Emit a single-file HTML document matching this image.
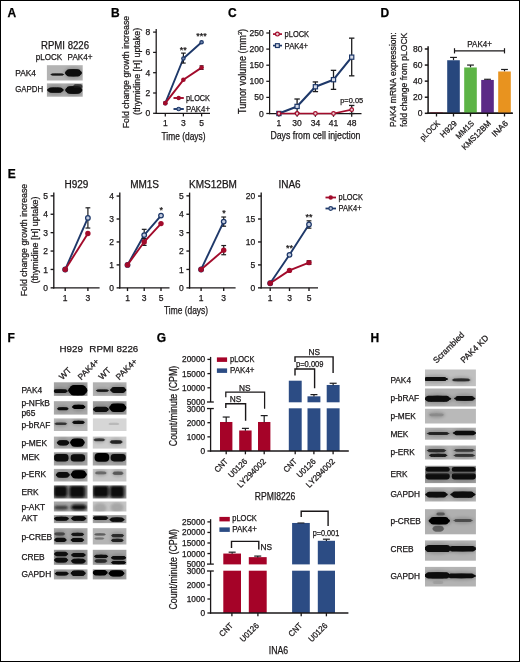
<!DOCTYPE html>
<html lang="en"><head><meta charset="utf-8"><title>Figure</title>
<style>
html,body{margin:0;padding:0;background:#fff;}
body{width:520px;height:662px;overflow:hidden;}
svg{display:block;font-family:'Liberation Sans', Arial, Helvetica, sans-serif;}
</style></head>
<body>
<svg width="520" height="662" viewBox="0 0 520 662">
<defs>
<filter id="b10" x="-20%" y="-50%" width="140%" height="200%"><feGaussianBlur stdDeviation="1.0"/></filter>
<filter id="b9" x="-20%" y="-50%" width="140%" height="200%"><feGaussianBlur stdDeviation="0.9"/></filter>
<filter id="b7" x="-20%" y="-50%" width="140%" height="200%"><feGaussianBlur stdDeviation="0.7"/></filter>
<filter id="b15" x="-20%" y="-50%" width="140%" height="200%"><feGaussianBlur stdDeviation="1.5"/></filter>
</defs>
<rect x="0" y="0" width="520" height="662" fill="#ffffff"/>
<text transform="translate(7.50,16.70)" font-size="12" text-anchor="start" font-weight="bold" fill="#000" stroke="#000" stroke-width="0.25">A</text>
<text transform="translate(111.00,16.70)" font-size="12" text-anchor="start" font-weight="bold" fill="#000" stroke="#000" stroke-width="0.25">B</text>
<text transform="translate(228.00,16.70)" font-size="12" text-anchor="start" font-weight="bold" fill="#000" stroke="#000" stroke-width="0.25">C</text>
<text transform="translate(380.50,16.70)" font-size="12" text-anchor="start" font-weight="bold" fill="#000" stroke="#000" stroke-width="0.25">D</text>
<text transform="translate(7.80,178.10)" font-size="12" text-anchor="start" font-weight="bold" fill="#000" stroke="#000" stroke-width="0.25">E</text>
<text transform="translate(7.50,342.30)" font-size="12" text-anchor="start" font-weight="bold" fill="#000" stroke="#000" stroke-width="0.25">F</text>
<text transform="translate(156.70,342.30)" font-size="12" text-anchor="start" font-weight="bold" fill="#000" stroke="#000" stroke-width="0.25">G</text>
<text transform="translate(370.60,342.30)" font-size="12" text-anchor="start" font-weight="bold" fill="#000" stroke="#000" stroke-width="0.25">H</text>
<text transform="translate(41.00,48.80)" font-size="10" text-anchor="start" font-weight="normal" fill="#1a1718" stroke="#1a1718" stroke-width="0.25" textLength="48" lengthAdjust="spacingAndGlyphs">RPMI 8226</text>
<text transform="translate(35.80,60.10)" font-size="9" text-anchor="start" font-weight="normal" fill="#1a1718" stroke="#1a1718" stroke-width="0.25" textLength="26.4" lengthAdjust="spacingAndGlyphs">pLOCK</text>
<text transform="translate(67.60,60.10)" font-size="9" text-anchor="start" font-weight="normal" fill="#1a1718" stroke="#1a1718" stroke-width="0.25" textLength="25" lengthAdjust="spacingAndGlyphs">PAK4+</text>
<text transform="translate(15.20,75.80)" font-size="8.6" text-anchor="start" font-weight="normal" fill="#1a1718" stroke="#1a1718" stroke-width="0.25" textLength="20.8" lengthAdjust="spacingAndGlyphs">PAK4</text>
<text transform="translate(15.20,92.00)" font-size="8.6" text-anchor="start" font-weight="normal" fill="#1a1718" stroke="#1a1718" stroke-width="0.25" textLength="28" lengthAdjust="spacingAndGlyphs">GAPDH</text>
<clipPath id="c1"><rect x="46.90" y="65.20" width="35.80" height="15.30"/></clipPath>
<rect x="46.90" y="65.20" width="35.80" height="15.30" fill="#b3b3b3"/>
<g clip-path="url(#c1)"><g filter="url(#b15)">
<ellipse cx="73.40" cy="72.90" rx="9.75" ry="6.00" fill="#000" opacity="0.16"/>
</g><g filter="url(#b7)">
<ellipse cx="57.30" cy="74.50" rx="6.93" ry="1.03" fill="#1a1a1a" opacity="0.9"/>
<rect x="51.44" y="73.41" width="11.72" height="2.18" rx="0.88" fill="#1a1a1a" opacity="0.9"/>
<ellipse cx="73.40" cy="72.90" rx="8.58" ry="3.42" fill="#080808" opacity="1"/>
<rect x="66.15" y="69.29" width="14.51" height="7.22" rx="2.91" fill="#080808" opacity="1"/>
</g></g>
<clipPath id="c2"><rect x="46.90" y="83.40" width="35.80" height="13.30"/></clipPath>
<rect x="46.90" y="83.40" width="35.80" height="13.30" fill="#adadad"/>
<g clip-path="url(#c2)"><g filter="url(#b15)">
<ellipse cx="55.40" cy="90.10" rx="9.50" ry="5.00" fill="#000" opacity="0.16"/>
<ellipse cx="73.80" cy="90.00" rx="9.88" ry="6.20" fill="#000" opacity="0.16"/>
</g><g filter="url(#b7)">
<ellipse cx="55.40" cy="90.10" rx="8.36" ry="2.52" fill="#0a0a0a" opacity="1"/>
<rect x="48.33" y="87.44" width="14.14" height="5.32" rx="2.14" fill="#0a0a0a" opacity="1"/>
<ellipse cx="73.80" cy="90.00" rx="8.69" ry="3.60" fill="#080808" opacity="1"/>
<rect x="66.45" y="86.20" width="14.69" height="7.60" rx="3.06" fill="#080808" opacity="1"/>
<ellipse cx="77.90" cy="86.40" rx="4.95" ry="2.25" fill="#1a1a1a" opacity="0.5"/>
<rect x="73.72" y="84.03" width="8.37" height="4.75" rx="1.91" fill="#1a1a1a" opacity="0.5"/>
</g></g>
<line x1="156.20" y1="29.00" x2="156.20" y2="113.92" stroke="#1a1718" stroke-width="1.25" stroke-linecap="butt"/>
<line x1="155.57" y1="113.30" x2="210.00" y2="113.30" stroke="#1a1718" stroke-width="1.25" stroke-linecap="butt"/>
<line x1="153.10" y1="113.30" x2="156.20" y2="113.30" stroke="#1a1718" stroke-width="1.25" stroke-linecap="butt"/>
<text transform="translate(150.30,116.36)" font-size="8.5" text-anchor="end" font-weight="normal" fill="#1a1718" stroke="#1a1718" stroke-width="0.25">0</text>
<line x1="153.10" y1="93.00" x2="156.20" y2="93.00" stroke="#1a1718" stroke-width="1.25" stroke-linecap="butt"/>
<text transform="translate(150.30,96.06)" font-size="8.5" text-anchor="end" font-weight="normal" fill="#1a1718" stroke="#1a1718" stroke-width="0.25">2</text>
<line x1="153.10" y1="72.70" x2="156.20" y2="72.70" stroke="#1a1718" stroke-width="1.25" stroke-linecap="butt"/>
<text transform="translate(150.30,75.76)" font-size="8.5" text-anchor="end" font-weight="normal" fill="#1a1718" stroke="#1a1718" stroke-width="0.25">4</text>
<line x1="153.10" y1="52.40" x2="156.20" y2="52.40" stroke="#1a1718" stroke-width="1.25" stroke-linecap="butt"/>
<text transform="translate(150.30,55.46)" font-size="8.5" text-anchor="end" font-weight="normal" fill="#1a1718" stroke="#1a1718" stroke-width="0.25">6</text>
<line x1="153.10" y1="32.10" x2="156.20" y2="32.10" stroke="#1a1718" stroke-width="1.25" stroke-linecap="butt"/>
<text transform="translate(150.30,35.16)" font-size="8.5" text-anchor="end" font-weight="normal" fill="#1a1718" stroke="#1a1718" stroke-width="0.25">8</text>
<line x1="165.30" y1="113.30" x2="165.30" y2="116.40" stroke="#1a1718" stroke-width="1.25" stroke-linecap="butt"/>
<text transform="translate(165.30,126.10)" font-size="8.5" text-anchor="middle" font-weight="normal" fill="#1a1718" stroke="#1a1718" stroke-width="0.25">1</text>
<line x1="183.40" y1="113.30" x2="183.40" y2="116.40" stroke="#1a1718" stroke-width="1.25" stroke-linecap="butt"/>
<text transform="translate(183.40,126.10)" font-size="8.5" text-anchor="middle" font-weight="normal" fill="#1a1718" stroke="#1a1718" stroke-width="0.25">3</text>
<line x1="201.60" y1="113.30" x2="201.60" y2="116.40" stroke="#1a1718" stroke-width="1.25" stroke-linecap="butt"/>
<text transform="translate(201.60,126.10)" font-size="8.5" text-anchor="middle" font-weight="normal" fill="#1a1718" stroke="#1a1718" stroke-width="0.25">5</text>
<text transform="translate(183.50,139.50)" font-size="10" text-anchor="middle" font-weight="normal" fill="#1a1718" stroke="#1a1718" stroke-width="0.25" textLength="44" lengthAdjust="spacingAndGlyphs">Time (days)</text>
<text transform="translate(128.50,72.00) rotate(-90)" font-size="9.2" text-anchor="middle" font-weight="normal" fill="#1a1718" stroke="#1a1718" stroke-width="0.25" textLength="112.5" lengthAdjust="spacingAndGlyphs">Fold change growth increase</text>
<text transform="translate(139.90,71.40) rotate(-90)" font-size="9.2" text-anchor="middle" font-weight="normal" fill="#1a1718" stroke="#1a1718" stroke-width="0.25" textLength="87" lengthAdjust="spacingAndGlyphs">(thymidine [H] uptake)</text>
<polyline points="165.30,103.15 183.40,58.49 201.60,42.25" fill="none" stroke="#1e3869" stroke-width="1.9" stroke-linejoin="round"/>
<line x1="183.40" y1="53.11" x2="183.40" y2="63.06" stroke="#1d1d1f" stroke-width="1.2" stroke-linecap="butt"/>
<line x1="181.10" y1="53.11" x2="185.70" y2="53.11" stroke="#1d1d1f" stroke-width="1.2" stroke-linecap="butt"/>
<line x1="181.10" y1="63.06" x2="185.70" y2="63.06" stroke="#1d1d1f" stroke-width="1.2" stroke-linecap="butt"/>
<circle cx="165.30" cy="103.15" r="1.7" fill="#7288b0" stroke="#1e3869" stroke-width="1.2"/>
<circle cx="183.40" cy="58.49" r="1.7" fill="#7288b0" stroke="#1e3869" stroke-width="1.2"/>
<circle cx="201.60" cy="42.25" r="1.7" fill="#7288b0" stroke="#1e3869" stroke-width="1.2"/>
<polyline points="165.30,103.15 183.40,79.81 201.60,67.62" fill="none" stroke="#a20b2b" stroke-width="1.9" stroke-linejoin="round"/>
<line x1="201.60" y1="65.80" x2="201.60" y2="69.45" stroke="#1d1d1f" stroke-width="1.1" stroke-linecap="butt"/>
<line x1="199.60" y1="65.80" x2="203.60" y2="65.80" stroke="#1d1d1f" stroke-width="1.1" stroke-linecap="butt"/>
<line x1="199.60" y1="69.45" x2="203.60" y2="69.45" stroke="#1d1d1f" stroke-width="1.1" stroke-linecap="butt"/>
<circle cx="165.30" cy="103.15" r="2.3" fill="#a20b2b" stroke="none" stroke-width="1.0"/>
<circle cx="183.40" cy="79.81" r="2.3" fill="#a20b2b" stroke="none" stroke-width="1.0"/>
<circle cx="201.60" cy="67.62" r="2.3" fill="#a20b2b" stroke="none" stroke-width="1.0"/>
<text transform="translate(183.20,52.50)" font-size="9" text-anchor="middle" font-weight="normal" fill="#1a1718" stroke="#1a1718" stroke-width="0.25">**</text>
<text transform="translate(201.50,38.50)" font-size="9" text-anchor="middle" font-weight="normal" fill="#1a1718" stroke="#1a1718" stroke-width="0.25">***</text>
<line x1="173.50" y1="98.00" x2="183.80" y2="98.00" stroke="#a20b2b" stroke-width="1.9" stroke-linecap="butt"/>
<circle cx="178.70" cy="98.00" r="2.2" fill="#a20b2b" stroke="none" stroke-width="1.0"/>
<text transform="translate(186.00,101.00)" font-size="8.5" text-anchor="start" font-weight="normal" fill="#1a1718" stroke="#1a1718" stroke-width="0.25" textLength="24" lengthAdjust="spacingAndGlyphs">pLOCK</text>
<line x1="173.50" y1="109.00" x2="183.80" y2="109.00" stroke="#1e3869" stroke-width="1.9" stroke-linecap="butt"/>
<circle cx="178.70" cy="109.00" r="1.8" fill="#7f95bb" stroke="#1e3869" stroke-width="1.1"/>
<text transform="translate(186.00,112.00)" font-size="8.5" text-anchor="start" font-weight="normal" fill="#1a1718" stroke="#1a1718" stroke-width="0.25" textLength="24" lengthAdjust="spacingAndGlyphs">PAK4+</text>
<line x1="269.60" y1="30.00" x2="269.60" y2="114.12" stroke="#1a1718" stroke-width="1.25" stroke-linecap="butt"/>
<line x1="268.98" y1="113.50" x2="361.50" y2="113.50" stroke="#1a1718" stroke-width="1.25" stroke-linecap="butt"/>
<line x1="266.30" y1="113.50" x2="269.60" y2="113.50" stroke="#1a1718" stroke-width="1.25" stroke-linecap="butt"/>
<text transform="translate(263.70,116.56)" font-size="8.5" text-anchor="end" font-weight="normal" fill="#1a1718" stroke="#1a1718" stroke-width="0.25">0</text>
<line x1="266.30" y1="97.40" x2="269.60" y2="97.40" stroke="#1a1718" stroke-width="1.25" stroke-linecap="butt"/>
<text transform="translate(263.70,100.46)" font-size="8.5" text-anchor="end" font-weight="normal" fill="#1a1718" stroke="#1a1718" stroke-width="0.25">50</text>
<line x1="266.30" y1="81.30" x2="269.60" y2="81.30" stroke="#1a1718" stroke-width="1.25" stroke-linecap="butt"/>
<text transform="translate(263.70,84.36)" font-size="8.5" text-anchor="end" font-weight="normal" fill="#1a1718" stroke="#1a1718" stroke-width="0.25">100</text>
<line x1="266.30" y1="65.20" x2="269.60" y2="65.20" stroke="#1a1718" stroke-width="1.25" stroke-linecap="butt"/>
<text transform="translate(263.70,68.26)" font-size="8.5" text-anchor="end" font-weight="normal" fill="#1a1718" stroke="#1a1718" stroke-width="0.25">150</text>
<line x1="266.30" y1="49.10" x2="269.60" y2="49.10" stroke="#1a1718" stroke-width="1.25" stroke-linecap="butt"/>
<text transform="translate(263.70,52.16)" font-size="8.5" text-anchor="end" font-weight="normal" fill="#1a1718" stroke="#1a1718" stroke-width="0.25">200</text>
<line x1="266.30" y1="33.00" x2="269.60" y2="33.00" stroke="#1a1718" stroke-width="1.25" stroke-linecap="butt"/>
<text transform="translate(263.70,36.06)" font-size="8.5" text-anchor="end" font-weight="normal" fill="#1a1718" stroke="#1a1718" stroke-width="0.25">250</text>
<line x1="278.90" y1="113.50" x2="278.90" y2="116.80" stroke="#1a1718" stroke-width="1.25" stroke-linecap="butt"/>
<text transform="translate(278.90,126.20)" font-size="8.5" text-anchor="middle" font-weight="normal" fill="#1a1718" stroke="#1a1718" stroke-width="0.25">1</text>
<line x1="297.10" y1="113.50" x2="297.10" y2="116.80" stroke="#1a1718" stroke-width="1.25" stroke-linecap="butt"/>
<text transform="translate(297.10,126.20)" font-size="8.5" text-anchor="middle" font-weight="normal" fill="#1a1718" stroke="#1a1718" stroke-width="0.25">30</text>
<line x1="315.40" y1="113.50" x2="315.40" y2="116.80" stroke="#1a1718" stroke-width="1.25" stroke-linecap="butt"/>
<text transform="translate(315.40,126.20)" font-size="8.5" text-anchor="middle" font-weight="normal" fill="#1a1718" stroke="#1a1718" stroke-width="0.25">34</text>
<line x1="333.50" y1="113.50" x2="333.50" y2="116.80" stroke="#1a1718" stroke-width="1.25" stroke-linecap="butt"/>
<text transform="translate(333.50,126.20)" font-size="8.5" text-anchor="middle" font-weight="normal" fill="#1a1718" stroke="#1a1718" stroke-width="0.25">41</text>
<line x1="351.70" y1="113.50" x2="351.70" y2="116.80" stroke="#1a1718" stroke-width="1.25" stroke-linecap="butt"/>
<text transform="translate(351.70,126.20)" font-size="8.5" text-anchor="middle" font-weight="normal" fill="#1a1718" stroke="#1a1718" stroke-width="0.25">48</text>
<text transform="translate(315.40,138.80)" font-size="10" text-anchor="middle" font-weight="normal" fill="#1a1718" stroke="#1a1718" stroke-width="0.25" textLength="90" lengthAdjust="spacingAndGlyphs">Days from cell injection</text>
<text transform="translate(245.80,71.50) rotate(-90)" font-size="10" text-anchor="middle" font-weight="normal" fill="#1a1718" stroke="#1a1718" stroke-width="0.25" textLength="85" lengthAdjust="spacingAndGlyphs">Tumor volume (mm<tspan font-size="6" dy="-3.5">3</tspan><tspan dy="3.5">)</tspan></text>
<line x1="297.10" y1="113.18" x2="297.10" y2="99.01" stroke="#1d1d1f" stroke-width="1.3" stroke-linecap="butt"/>
<line x1="294.40" y1="113.18" x2="299.80" y2="113.18" stroke="#1d1d1f" stroke-width="1.3" stroke-linecap="butt"/>
<line x1="294.40" y1="99.01" x2="299.80" y2="99.01" stroke="#1d1d1f" stroke-width="1.3" stroke-linecap="butt"/>
<line x1="315.40" y1="91.60" x2="315.40" y2="81.94" stroke="#1d1d1f" stroke-width="1.3" stroke-linecap="butt"/>
<line x1="312.70" y1="91.60" x2="318.10" y2="91.60" stroke="#1d1d1f" stroke-width="1.3" stroke-linecap="butt"/>
<line x1="312.70" y1="81.94" x2="318.10" y2="81.94" stroke="#1d1d1f" stroke-width="1.3" stroke-linecap="butt"/>
<line x1="333.50" y1="89.35" x2="333.50" y2="70.35" stroke="#1d1d1f" stroke-width="1.3" stroke-linecap="butt"/>
<line x1="330.80" y1="89.35" x2="336.20" y2="89.35" stroke="#1d1d1f" stroke-width="1.3" stroke-linecap="butt"/>
<line x1="330.80" y1="70.35" x2="336.20" y2="70.35" stroke="#1d1d1f" stroke-width="1.3" stroke-linecap="butt"/>
<line x1="351.70" y1="75.83" x2="351.70" y2="38.15" stroke="#1d1d1f" stroke-width="1.3" stroke-linecap="butt"/>
<line x1="349.00" y1="75.83" x2="354.40" y2="75.83" stroke="#1d1d1f" stroke-width="1.3" stroke-linecap="butt"/>
<line x1="349.00" y1="38.15" x2="354.40" y2="38.15" stroke="#1d1d1f" stroke-width="1.3" stroke-linecap="butt"/>
<polyline points="278.90,113.50 297.10,106.42 315.40,86.77 333.50,79.69 351.70,57.15" fill="none" stroke="#1e3869" stroke-width="2.1" stroke-linejoin="round"/>
<rect x="276.80" y="111.40" width="4.20" height="4.20" fill="#d5dbe8" stroke="#1e3869" stroke-width="1.2"/>
<rect x="295.00" y="104.32" width="4.20" height="4.20" fill="#d5dbe8" stroke="#1e3869" stroke-width="1.2"/>
<rect x="313.30" y="84.67" width="4.20" height="4.20" fill="#d5dbe8" stroke="#1e3869" stroke-width="1.2"/>
<rect x="331.40" y="77.59" width="4.20" height="4.20" fill="#d5dbe8" stroke="#1e3869" stroke-width="1.2"/>
<rect x="349.60" y="55.05" width="4.20" height="4.20" fill="#d5dbe8" stroke="#1e3869" stroke-width="1.2"/>
<line x1="351.70" y1="105.45" x2="351.70" y2="113.50" stroke="#1d1d1f" stroke-width="1.3" stroke-linecap="butt"/>
<line x1="349.00" y1="105.45" x2="354.40" y2="105.45" stroke="#1d1d1f" stroke-width="1.3" stroke-linecap="butt"/>
<line x1="349.00" y1="113.50" x2="354.40" y2="113.50" stroke="#1d1d1f" stroke-width="1.3" stroke-linecap="butt"/>
<polyline points="278.90,113.50 297.10,113.50 315.40,113.50 333.50,113.50 351.70,109.64" fill="none" stroke="#a20b2b" stroke-width="1.7" stroke-linejoin="round"/>
<circle cx="278.90" cy="113.50" r="1.8" fill="#ecd0d6" stroke="#a20b2b" stroke-width="1.2"/>
<circle cx="297.10" cy="113.50" r="1.8" fill="#ecd0d6" stroke="#a20b2b" stroke-width="1.2"/>
<circle cx="315.40" cy="113.50" r="1.8" fill="#ecd0d6" stroke="#a20b2b" stroke-width="1.2"/>
<circle cx="333.50" cy="113.50" r="1.8" fill="#ecd0d6" stroke="#a20b2b" stroke-width="1.2"/>
<circle cx="351.70" cy="109.64" r="1.8" fill="#ecd0d6" stroke="#a20b2b" stroke-width="1.2"/>
<text transform="translate(351.70,103.00)" font-size="8" text-anchor="middle" font-weight="normal" fill="#1a1718" stroke="#1a1718" stroke-width="0.25" textLength="23" lengthAdjust="spacingAndGlyphs">p=0.05</text>
<line x1="273.00" y1="34.10" x2="282.00" y2="34.10" stroke="#a20b2b" stroke-width="1.7" stroke-linecap="butt"/>
<circle cx="277.40" cy="34.10" r="1.9" fill="#ecd0d6" stroke="#a20b2b" stroke-width="1.2"/>
<text transform="translate(284.60,37.10)" font-size="8.5" text-anchor="start" font-weight="normal" fill="#1a1718" stroke="#1a1718" stroke-width="0.25" textLength="24.5" lengthAdjust="spacingAndGlyphs">pLOCK</text>
<line x1="273.00" y1="45.60" x2="282.00" y2="45.60" stroke="#1e3869" stroke-width="1.7" stroke-linecap="butt"/>
<rect x="275.50" y="43.70" width="3.80" height="3.80" fill="#d5dbe8" stroke="#1e3869" stroke-width="1.2"/>
<text transform="translate(284.60,48.60)" font-size="8.5" text-anchor="start" font-weight="normal" fill="#1a1718" stroke="#1a1718" stroke-width="0.25" textLength="23.5" lengthAdjust="spacingAndGlyphs">PAK4+</text>
<line x1="428.10" y1="46.20" x2="428.10" y2="114.05" stroke="#1a1718" stroke-width="1.5" stroke-linecap="butt"/>
<line x1="427.35" y1="113.30" x2="512.70" y2="113.30" stroke="#1a1718" stroke-width="1.5" stroke-linecap="butt"/>
<line x1="424.80" y1="113.30" x2="428.10" y2="113.30" stroke="#1a1718" stroke-width="1.5" stroke-linecap="butt"/>
<text transform="translate(422.40,116.36)" font-size="8.5" text-anchor="end" font-weight="normal" fill="#1a1718" stroke="#1a1718" stroke-width="0.25">0</text>
<line x1="424.80" y1="97.22" x2="428.10" y2="97.22" stroke="#1a1718" stroke-width="1.5" stroke-linecap="butt"/>
<text transform="translate(422.40,100.28)" font-size="8.5" text-anchor="end" font-weight="normal" fill="#1a1718" stroke="#1a1718" stroke-width="0.25">20</text>
<line x1="424.80" y1="81.14" x2="428.10" y2="81.14" stroke="#1a1718" stroke-width="1.5" stroke-linecap="butt"/>
<text transform="translate(422.40,84.20)" font-size="8.5" text-anchor="end" font-weight="normal" fill="#1a1718" stroke="#1a1718" stroke-width="0.25">40</text>
<line x1="424.80" y1="65.06" x2="428.10" y2="65.06" stroke="#1a1718" stroke-width="1.5" stroke-linecap="butt"/>
<text transform="translate(422.40,68.12)" font-size="8.5" text-anchor="end" font-weight="normal" fill="#1a1718" stroke="#1a1718" stroke-width="0.25">60</text>
<line x1="424.80" y1="48.98" x2="428.10" y2="48.98" stroke="#1a1718" stroke-width="1.5" stroke-linecap="butt"/>
<text transform="translate(422.40,52.04)" font-size="8.5" text-anchor="end" font-weight="normal" fill="#1a1718" stroke="#1a1718" stroke-width="0.25">80</text>
<rect x="430.20" y="112.50" width="12.60" height="0.80" fill="#a20b2b"/>
<line x1="436.50" y1="113.30" x2="436.50" y2="116.50" stroke="#1a1718" stroke-width="1.3" stroke-linecap="butt"/>
<line x1="453.50" y1="57.42" x2="453.50" y2="60.24" stroke="#1d1d1f" stroke-width="1.2" stroke-linecap="butt"/>
<line x1="450.10" y1="57.42" x2="456.90" y2="57.42" stroke="#1d1d1f" stroke-width="1.2" stroke-linecap="butt"/>
<rect x="447.20" y="60.24" width="12.60" height="53.06" fill="#27477d"/>
<line x1="453.50" y1="113.30" x2="453.50" y2="116.50" stroke="#1a1718" stroke-width="1.3" stroke-linecap="butt"/>
<line x1="470.50" y1="65.06" x2="470.50" y2="67.47" stroke="#1d1d1f" stroke-width="1.2" stroke-linecap="butt"/>
<line x1="467.10" y1="65.06" x2="473.90" y2="65.06" stroke="#1d1d1f" stroke-width="1.2" stroke-linecap="butt"/>
<rect x="464.20" y="67.47" width="12.60" height="45.83" fill="#5db446"/>
<line x1="470.50" y1="113.30" x2="470.50" y2="116.50" stroke="#1a1718" stroke-width="1.3" stroke-linecap="butt"/>
<line x1="487.50" y1="79.29" x2="487.50" y2="79.93" stroke="#1d1d1f" stroke-width="1.2" stroke-linecap="butt"/>
<line x1="484.10" y1="79.29" x2="490.90" y2="79.29" stroke="#1d1d1f" stroke-width="1.2" stroke-linecap="butt"/>
<rect x="481.20" y="79.93" width="12.60" height="33.37" fill="#5b2a86"/>
<line x1="487.50" y1="113.30" x2="487.50" y2="116.50" stroke="#1a1718" stroke-width="1.3" stroke-linecap="butt"/>
<line x1="504.50" y1="69.48" x2="504.50" y2="71.49" stroke="#1d1d1f" stroke-width="1.2" stroke-linecap="butt"/>
<line x1="501.10" y1="69.48" x2="507.90" y2="69.48" stroke="#1d1d1f" stroke-width="1.2" stroke-linecap="butt"/>
<rect x="498.20" y="71.49" width="12.60" height="41.81" fill="#e8931f"/>
<line x1="504.50" y1="113.30" x2="504.50" y2="116.50" stroke="#1a1718" stroke-width="1.3" stroke-linecap="butt"/>
<line x1="427.35" y1="113.30" x2="512.70" y2="113.30" stroke="#1a1718" stroke-width="1.5" stroke-linecap="butt"/>
<text transform="translate(440.50,123.90) rotate(-45)" font-size="8.2" text-anchor="end" font-weight="normal" fill="#1a1718" stroke="#1a1718" stroke-width="0.25" textLength="24.5" lengthAdjust="spacingAndGlyphs">pLOCK</text>
<text transform="translate(457.50,123.90) rotate(-45)" font-size="8.2" text-anchor="end" font-weight="normal" fill="#1a1718" stroke="#1a1718" stroke-width="0.25" textLength="20" lengthAdjust="spacingAndGlyphs">H929</text>
<text transform="translate(474.50,123.90) rotate(-45)" font-size="8.2" text-anchor="end" font-weight="normal" fill="#1a1718" stroke="#1a1718" stroke-width="0.25" textLength="22" lengthAdjust="spacingAndGlyphs">MM1S</text>
<text transform="translate(491.50,123.90) rotate(-45)" font-size="8.2" text-anchor="end" font-weight="normal" fill="#1a1718" stroke="#1a1718" stroke-width="0.25" textLength="37.5" lengthAdjust="spacingAndGlyphs">KMS12BM</text>
<text transform="translate(508.50,123.90) rotate(-45)" font-size="8.2" text-anchor="end" font-weight="normal" fill="#1a1718" stroke="#1a1718" stroke-width="0.25" textLength="19" lengthAdjust="spacingAndGlyphs">INA6</text>
<line x1="454.50" y1="50.80" x2="504.50" y2="50.80" stroke="#1a1718" stroke-width="1.2" stroke-linecap="butt"/>
<line x1="454.50" y1="48.20" x2="454.50" y2="53.40" stroke="#1a1718" stroke-width="1.2" stroke-linecap="butt"/>
<line x1="504.50" y1="48.20" x2="504.50" y2="53.40" stroke="#1a1718" stroke-width="1.2" stroke-linecap="butt"/>
<text transform="translate(479.60,46.80)" font-size="8.3" text-anchor="middle" font-weight="normal" fill="#1a1718" stroke="#1a1718" stroke-width="0.25" textLength="24.5" lengthAdjust="spacingAndGlyphs">PAK4+</text>
<text transform="translate(396.30,79.60) rotate(-90)" font-size="9.6" text-anchor="middle" font-weight="normal" fill="#1a1718" stroke="#1a1718" stroke-width="0.25" textLength="94.6" lengthAdjust="spacingAndGlyphs">PAK4 mRNA expression:</text>
<text transform="translate(407.20,79.80) rotate(-90)" font-size="9.6" text-anchor="middle" font-weight="normal" fill="#1a1718" stroke="#1a1718" stroke-width="0.25" textLength="94.2" lengthAdjust="spacingAndGlyphs">fold change from pLOCK</text>
<line x1="53.80" y1="192.60" x2="53.80" y2="288.53" stroke="#1a1718" stroke-width="1.35" stroke-linecap="butt"/>
<line x1="53.12" y1="287.85" x2="99.60" y2="287.85" stroke="#1a1718" stroke-width="1.35" stroke-linecap="butt"/>
<line x1="50.60" y1="287.85" x2="53.80" y2="287.85" stroke="#1a1718" stroke-width="1.35" stroke-linecap="butt"/>
<text transform="translate(47.90,290.91)" font-size="8.5" text-anchor="end" font-weight="normal" fill="#1a1718" stroke="#1a1718" stroke-width="0.25">0</text>
<line x1="50.60" y1="269.45" x2="53.80" y2="269.45" stroke="#1a1718" stroke-width="1.35" stroke-linecap="butt"/>
<text transform="translate(47.90,272.51)" font-size="8.5" text-anchor="end" font-weight="normal" fill="#1a1718" stroke="#1a1718" stroke-width="0.25">1</text>
<line x1="50.60" y1="251.05" x2="53.80" y2="251.05" stroke="#1a1718" stroke-width="1.35" stroke-linecap="butt"/>
<text transform="translate(47.90,254.11)" font-size="8.5" text-anchor="end" font-weight="normal" fill="#1a1718" stroke="#1a1718" stroke-width="0.25">2</text>
<line x1="50.60" y1="232.65" x2="53.80" y2="232.65" stroke="#1a1718" stroke-width="1.35" stroke-linecap="butt"/>
<text transform="translate(47.90,235.71)" font-size="8.5" text-anchor="end" font-weight="normal" fill="#1a1718" stroke="#1a1718" stroke-width="0.25">3</text>
<line x1="50.60" y1="214.25" x2="53.80" y2="214.25" stroke="#1a1718" stroke-width="1.35" stroke-linecap="butt"/>
<text transform="translate(47.90,217.31)" font-size="8.5" text-anchor="end" font-weight="normal" fill="#1a1718" stroke="#1a1718" stroke-width="0.25">4</text>
<line x1="50.60" y1="195.85" x2="53.80" y2="195.85" stroke="#1a1718" stroke-width="1.35" stroke-linecap="butt"/>
<text transform="translate(47.90,198.91)" font-size="8.5" text-anchor="end" font-weight="normal" fill="#1a1718" stroke="#1a1718" stroke-width="0.25">5</text>
<line x1="65.20" y1="287.85" x2="65.20" y2="291.05" stroke="#1a1718" stroke-width="1.35" stroke-linecap="butt"/>
<text transform="translate(65.20,301.15)" font-size="8.5" text-anchor="middle" font-weight="normal" fill="#1a1718" stroke="#1a1718" stroke-width="0.25">1</text>
<line x1="87.90" y1="287.85" x2="87.90" y2="291.05" stroke="#1a1718" stroke-width="1.35" stroke-linecap="butt"/>
<text transform="translate(87.90,301.15)" font-size="8.5" text-anchor="middle" font-weight="normal" fill="#1a1718" stroke="#1a1718" stroke-width="0.25">3</text>
<text transform="translate(76.40,187.80)" font-size="10" text-anchor="middle" font-weight="normal" fill="#1a1718" stroke="#1a1718" stroke-width="0.25">H929</text>
<line x1="87.90" y1="228.05" x2="87.90" y2="207.81" stroke="#1d1d1f" stroke-width="1.2" stroke-linecap="butt"/>
<line x1="85.50" y1="228.05" x2="90.30" y2="228.05" stroke="#1d1d1f" stroke-width="1.2" stroke-linecap="butt"/>
<line x1="85.50" y1="207.81" x2="90.30" y2="207.81" stroke="#1d1d1f" stroke-width="1.2" stroke-linecap="butt"/>
<polyline points="65.20,269.45 87.90,217.93" fill="none" stroke="#1e3869" stroke-width="1.9" stroke-linejoin="round"/>
<circle cx="65.20" cy="269.45" r="2.3" fill="#c3cce0" stroke="#1e3869" stroke-width="1.25"/>
<circle cx="87.90" cy="217.93" r="2.3" fill="#c3cce0" stroke="#1e3869" stroke-width="1.25"/>
<polyline points="65.20,269.45 87.90,233.57" fill="none" stroke="#a20b2b" stroke-width="1.9" stroke-linejoin="round"/>
<circle cx="65.20" cy="269.45" r="2.7" fill="#a20b2b" stroke="none" stroke-width="1.0"/>
<circle cx="87.90" cy="233.57" r="2.7" fill="#a20b2b" stroke="none" stroke-width="1.0"/>
<line x1="119.80" y1="192.60" x2="119.80" y2="288.53" stroke="#1a1718" stroke-width="1.35" stroke-linecap="butt"/>
<line x1="119.12" y1="287.85" x2="169.50" y2="287.85" stroke="#1a1718" stroke-width="1.35" stroke-linecap="butt"/>
<line x1="116.60" y1="287.85" x2="119.80" y2="287.85" stroke="#1a1718" stroke-width="1.35" stroke-linecap="butt"/>
<text transform="translate(113.90,290.91)" font-size="8.5" text-anchor="end" font-weight="normal" fill="#1a1718" stroke="#1a1718" stroke-width="0.25">0</text>
<line x1="116.60" y1="264.90" x2="119.80" y2="264.90" stroke="#1a1718" stroke-width="1.35" stroke-linecap="butt"/>
<text transform="translate(113.90,267.96)" font-size="8.5" text-anchor="end" font-weight="normal" fill="#1a1718" stroke="#1a1718" stroke-width="0.25">1</text>
<line x1="116.60" y1="241.95" x2="119.80" y2="241.95" stroke="#1a1718" stroke-width="1.35" stroke-linecap="butt"/>
<text transform="translate(113.90,245.01)" font-size="8.5" text-anchor="end" font-weight="normal" fill="#1a1718" stroke="#1a1718" stroke-width="0.25">2</text>
<line x1="116.60" y1="219.00" x2="119.80" y2="219.00" stroke="#1a1718" stroke-width="1.35" stroke-linecap="butt"/>
<text transform="translate(113.90,222.06)" font-size="8.5" text-anchor="end" font-weight="normal" fill="#1a1718" stroke="#1a1718" stroke-width="0.25">3</text>
<line x1="116.60" y1="196.05" x2="119.80" y2="196.05" stroke="#1a1718" stroke-width="1.35" stroke-linecap="butt"/>
<text transform="translate(113.90,199.11)" font-size="8.5" text-anchor="end" font-weight="normal" fill="#1a1718" stroke="#1a1718" stroke-width="0.25">4</text>
<line x1="127.50" y1="287.85" x2="127.50" y2="291.05" stroke="#1a1718" stroke-width="1.35" stroke-linecap="butt"/>
<text transform="translate(127.50,301.15)" font-size="8.5" text-anchor="middle" font-weight="normal" fill="#1a1718" stroke="#1a1718" stroke-width="0.25">1</text>
<line x1="144.20" y1="287.85" x2="144.20" y2="291.05" stroke="#1a1718" stroke-width="1.35" stroke-linecap="butt"/>
<text transform="translate(144.20,301.15)" font-size="8.5" text-anchor="middle" font-weight="normal" fill="#1a1718" stroke="#1a1718" stroke-width="0.25">3</text>
<line x1="161.00" y1="287.85" x2="161.00" y2="291.05" stroke="#1a1718" stroke-width="1.35" stroke-linecap="butt"/>
<text transform="translate(161.00,301.15)" font-size="8.5" text-anchor="middle" font-weight="normal" fill="#1a1718" stroke="#1a1718" stroke-width="0.25">5</text>
<text transform="translate(144.60,187.80)" font-size="10" text-anchor="middle" font-weight="normal" fill="#1a1718" stroke="#1a1718" stroke-width="0.25">MM1S</text>
<line x1="144.20" y1="240.80" x2="144.20" y2="229.33" stroke="#1d1d1f" stroke-width="1.2" stroke-linecap="butt"/>
<line x1="141.80" y1="240.80" x2="146.60" y2="240.80" stroke="#1d1d1f" stroke-width="1.2" stroke-linecap="butt"/>
<line x1="141.80" y1="229.33" x2="146.60" y2="229.33" stroke="#1d1d1f" stroke-width="1.2" stroke-linecap="butt"/>
<polyline points="127.50,264.90 144.20,235.07 161.00,215.56" fill="none" stroke="#1e3869" stroke-width="1.9" stroke-linejoin="round"/>
<circle cx="127.50" cy="264.90" r="2.3" fill="#c3cce0" stroke="#1e3869" stroke-width="1.25"/>
<circle cx="144.20" cy="235.07" r="2.3" fill="#c3cce0" stroke="#1e3869" stroke-width="1.25"/>
<circle cx="161.00" cy="215.56" r="2.3" fill="#c3cce0" stroke="#1e3869" stroke-width="1.25"/>
<line x1="144.20" y1="245.39" x2="144.20" y2="238.51" stroke="#1d1d1f" stroke-width="1.2" stroke-linecap="butt"/>
<line x1="141.80" y1="245.39" x2="146.60" y2="245.39" stroke="#1d1d1f" stroke-width="1.2" stroke-linecap="butt"/>
<line x1="141.80" y1="238.51" x2="146.60" y2="238.51" stroke="#1d1d1f" stroke-width="1.2" stroke-linecap="butt"/>
<polyline points="127.50,264.90 144.20,241.95 161.00,223.59" fill="none" stroke="#a20b2b" stroke-width="1.9" stroke-linejoin="round"/>
<circle cx="127.50" cy="264.90" r="2.7" fill="#a20b2b" stroke="none" stroke-width="1.0"/>
<circle cx="144.20" cy="241.95" r="2.7" fill="#a20b2b" stroke="none" stroke-width="1.0"/>
<circle cx="161.00" cy="223.59" r="2.7" fill="#a20b2b" stroke="none" stroke-width="1.0"/>
<text transform="translate(161.20,212.50)" font-size="9" text-anchor="middle" font-weight="normal" fill="#1a1718" stroke="#1a1718" stroke-width="0.25">*</text>
<line x1="189.60" y1="192.60" x2="189.60" y2="288.53" stroke="#1a1718" stroke-width="1.35" stroke-linecap="butt"/>
<line x1="188.92" y1="287.85" x2="235.60" y2="287.85" stroke="#1a1718" stroke-width="1.35" stroke-linecap="butt"/>
<line x1="186.40" y1="287.85" x2="189.60" y2="287.85" stroke="#1a1718" stroke-width="1.35" stroke-linecap="butt"/>
<text transform="translate(183.70,290.91)" font-size="8.5" text-anchor="end" font-weight="normal" fill="#1a1718" stroke="#1a1718" stroke-width="0.25">0</text>
<line x1="186.40" y1="269.45" x2="189.60" y2="269.45" stroke="#1a1718" stroke-width="1.35" stroke-linecap="butt"/>
<text transform="translate(183.70,272.51)" font-size="8.5" text-anchor="end" font-weight="normal" fill="#1a1718" stroke="#1a1718" stroke-width="0.25">1</text>
<line x1="186.40" y1="251.05" x2="189.60" y2="251.05" stroke="#1a1718" stroke-width="1.35" stroke-linecap="butt"/>
<text transform="translate(183.70,254.11)" font-size="8.5" text-anchor="end" font-weight="normal" fill="#1a1718" stroke="#1a1718" stroke-width="0.25">2</text>
<line x1="186.40" y1="232.65" x2="189.60" y2="232.65" stroke="#1a1718" stroke-width="1.35" stroke-linecap="butt"/>
<text transform="translate(183.70,235.71)" font-size="8.5" text-anchor="end" font-weight="normal" fill="#1a1718" stroke="#1a1718" stroke-width="0.25">3</text>
<line x1="186.40" y1="214.25" x2="189.60" y2="214.25" stroke="#1a1718" stroke-width="1.35" stroke-linecap="butt"/>
<text transform="translate(183.70,217.31)" font-size="8.5" text-anchor="end" font-weight="normal" fill="#1a1718" stroke="#1a1718" stroke-width="0.25">4</text>
<line x1="186.40" y1="195.85" x2="189.60" y2="195.85" stroke="#1a1718" stroke-width="1.35" stroke-linecap="butt"/>
<text transform="translate(183.70,198.91)" font-size="8.5" text-anchor="end" font-weight="normal" fill="#1a1718" stroke="#1a1718" stroke-width="0.25">5</text>
<line x1="201.10" y1="287.85" x2="201.10" y2="291.05" stroke="#1a1718" stroke-width="1.35" stroke-linecap="butt"/>
<text transform="translate(201.10,301.15)" font-size="8.5" text-anchor="middle" font-weight="normal" fill="#1a1718" stroke="#1a1718" stroke-width="0.25">1</text>
<line x1="223.70" y1="287.85" x2="223.70" y2="291.05" stroke="#1a1718" stroke-width="1.35" stroke-linecap="butt"/>
<text transform="translate(223.70,301.15)" font-size="8.5" text-anchor="middle" font-weight="normal" fill="#1a1718" stroke="#1a1718" stroke-width="0.25">3</text>
<text transform="translate(213.00,187.80)" font-size="10" text-anchor="middle" font-weight="normal" fill="#1a1718" stroke="#1a1718" stroke-width="0.25">KMS12BM</text>
<line x1="223.70" y1="226.21" x2="223.70" y2="217.01" stroke="#1d1d1f" stroke-width="1.2" stroke-linecap="butt"/>
<line x1="221.30" y1="226.21" x2="226.10" y2="226.21" stroke="#1d1d1f" stroke-width="1.2" stroke-linecap="butt"/>
<line x1="221.30" y1="217.01" x2="226.10" y2="217.01" stroke="#1d1d1f" stroke-width="1.2" stroke-linecap="butt"/>
<polyline points="201.10,269.45 223.70,221.61" fill="none" stroke="#1e3869" stroke-width="1.9" stroke-linejoin="round"/>
<circle cx="201.10" cy="269.45" r="2.3" fill="#c3cce0" stroke="#1e3869" stroke-width="1.25"/>
<circle cx="223.70" cy="221.61" r="2.3" fill="#c3cce0" stroke="#1e3869" stroke-width="1.25"/>
<line x1="223.70" y1="254.73" x2="223.70" y2="245.53" stroke="#1d1d1f" stroke-width="1.2" stroke-linecap="butt"/>
<line x1="221.30" y1="254.73" x2="226.10" y2="254.73" stroke="#1d1d1f" stroke-width="1.2" stroke-linecap="butt"/>
<line x1="221.30" y1="245.53" x2="226.10" y2="245.53" stroke="#1d1d1f" stroke-width="1.2" stroke-linecap="butt"/>
<polyline points="201.10,269.45 223.70,250.13" fill="none" stroke="#a20b2b" stroke-width="1.9" stroke-linejoin="round"/>
<circle cx="201.10" cy="269.45" r="2.7" fill="#a20b2b" stroke="none" stroke-width="1.0"/>
<circle cx="223.70" cy="250.13" r="2.7" fill="#a20b2b" stroke="none" stroke-width="1.0"/>
<text transform="translate(224.00,215.50)" font-size="9" text-anchor="middle" font-weight="normal" fill="#1a1718" stroke="#1a1718" stroke-width="0.25">*</text>
<line x1="261.20" y1="192.60" x2="261.20" y2="288.53" stroke="#1a1718" stroke-width="1.35" stroke-linecap="butt"/>
<line x1="260.52" y1="287.85" x2="318.00" y2="287.85" stroke="#1a1718" stroke-width="1.35" stroke-linecap="butt"/>
<line x1="258.00" y1="287.85" x2="261.20" y2="287.85" stroke="#1a1718" stroke-width="1.35" stroke-linecap="butt"/>
<text transform="translate(255.30,290.91)" font-size="8.5" text-anchor="end" font-weight="normal" fill="#1a1718" stroke="#1a1718" stroke-width="0.25">0</text>
<line x1="258.00" y1="264.90" x2="261.20" y2="264.90" stroke="#1a1718" stroke-width="1.35" stroke-linecap="butt"/>
<text transform="translate(255.30,267.96)" font-size="8.5" text-anchor="end" font-weight="normal" fill="#1a1718" stroke="#1a1718" stroke-width="0.25">5</text>
<line x1="258.00" y1="241.95" x2="261.20" y2="241.95" stroke="#1a1718" stroke-width="1.35" stroke-linecap="butt"/>
<text transform="translate(255.30,245.01)" font-size="8.5" text-anchor="end" font-weight="normal" fill="#1a1718" stroke="#1a1718" stroke-width="0.25">10</text>
<line x1="258.00" y1="219.00" x2="261.20" y2="219.00" stroke="#1a1718" stroke-width="1.35" stroke-linecap="butt"/>
<text transform="translate(255.30,222.06)" font-size="8.5" text-anchor="end" font-weight="normal" fill="#1a1718" stroke="#1a1718" stroke-width="0.25">15</text>
<line x1="258.00" y1="196.05" x2="261.20" y2="196.05" stroke="#1a1718" stroke-width="1.35" stroke-linecap="butt"/>
<text transform="translate(255.30,199.11)" font-size="8.5" text-anchor="end" font-weight="normal" fill="#1a1718" stroke="#1a1718" stroke-width="0.25">20</text>
<line x1="270.20" y1="287.85" x2="270.20" y2="291.05" stroke="#1a1718" stroke-width="1.35" stroke-linecap="butt"/>
<text transform="translate(270.20,301.15)" font-size="8.5" text-anchor="middle" font-weight="normal" fill="#1a1718" stroke="#1a1718" stroke-width="0.25">1</text>
<line x1="289.50" y1="287.85" x2="289.50" y2="291.05" stroke="#1a1718" stroke-width="1.35" stroke-linecap="butt"/>
<text transform="translate(289.50,301.15)" font-size="8.5" text-anchor="middle" font-weight="normal" fill="#1a1718" stroke="#1a1718" stroke-width="0.25">3</text>
<line x1="309.00" y1="287.85" x2="309.00" y2="291.05" stroke="#1a1718" stroke-width="1.35" stroke-linecap="butt"/>
<text transform="translate(309.00,301.15)" font-size="8.5" text-anchor="middle" font-weight="normal" fill="#1a1718" stroke="#1a1718" stroke-width="0.25">5</text>
<text transform="translate(289.50,187.80)" font-size="10" text-anchor="middle" font-weight="normal" fill="#1a1718" stroke="#1a1718" stroke-width="0.25">INA6</text>
<line x1="309.00" y1="228.18" x2="309.00" y2="220.84" stroke="#1d1d1f" stroke-width="1.2" stroke-linecap="butt"/>
<line x1="306.60" y1="228.18" x2="311.40" y2="228.18" stroke="#1d1d1f" stroke-width="1.2" stroke-linecap="butt"/>
<line x1="306.60" y1="220.84" x2="311.40" y2="220.84" stroke="#1d1d1f" stroke-width="1.2" stroke-linecap="butt"/>
<polyline points="270.20,283.26 289.50,254.80 309.00,224.51" fill="none" stroke="#1e3869" stroke-width="1.9" stroke-linejoin="round"/>
<circle cx="270.20" cy="283.26" r="2.3" fill="#c3cce0" stroke="#1e3869" stroke-width="1.25"/>
<circle cx="289.50" cy="254.80" r="2.3" fill="#c3cce0" stroke="#1e3869" stroke-width="1.25"/>
<circle cx="309.00" cy="224.51" r="2.3" fill="#c3cce0" stroke="#1e3869" stroke-width="1.25"/>
<line x1="309.00" y1="264.44" x2="309.00" y2="260.77" stroke="#1d1d1f" stroke-width="1.2" stroke-linecap="butt"/>
<line x1="306.60" y1="264.44" x2="311.40" y2="264.44" stroke="#1d1d1f" stroke-width="1.2" stroke-linecap="butt"/>
<line x1="306.60" y1="260.77" x2="311.40" y2="260.77" stroke="#1d1d1f" stroke-width="1.2" stroke-linecap="butt"/>
<polyline points="270.20,283.26 289.50,270.41 309.00,262.61" fill="none" stroke="#a20b2b" stroke-width="1.9" stroke-linejoin="round"/>
<circle cx="270.20" cy="283.26" r="2.7" fill="#a20b2b" stroke="none" stroke-width="1.0"/>
<circle cx="289.50" cy="270.41" r="2.7" fill="#a20b2b" stroke="none" stroke-width="1.0"/>
<circle cx="309.00" cy="262.61" r="2.7" fill="#a20b2b" stroke="none" stroke-width="1.0"/>
<text transform="translate(289.50,251.00)" font-size="9" text-anchor="middle" font-weight="normal" fill="#1a1718" stroke="#1a1718" stroke-width="0.25">**</text>
<text transform="translate(309.00,220.00)" font-size="9" text-anchor="middle" font-weight="normal" fill="#1a1718" stroke="#1a1718" stroke-width="0.25">**</text>
<text transform="translate(186.00,314.40)" font-size="10" text-anchor="middle" font-weight="normal" fill="#1a1718" stroke="#1a1718" stroke-width="0.25" textLength="44" lengthAdjust="spacingAndGlyphs">Time (days)</text>
<text transform="translate(26.80,240.00) rotate(-90)" font-size="9.2" text-anchor="middle" font-weight="normal" fill="#1a1718" stroke="#1a1718" stroke-width="0.25" textLength="112.5" lengthAdjust="spacingAndGlyphs">Fold change growth increase</text>
<text transform="translate(37.60,240.00) rotate(-90)" font-size="9.2" text-anchor="middle" font-weight="normal" fill="#1a1718" stroke="#1a1718" stroke-width="0.25" textLength="87" lengthAdjust="spacingAndGlyphs">(thymidine [H] uptake)</text>
<line x1="325.50" y1="197.50" x2="336.00" y2="197.50" stroke="#a20b2b" stroke-width="1.8" stroke-linecap="butt"/>
<circle cx="330.70" cy="197.50" r="2.2" fill="#a20b2b" stroke="none" stroke-width="1.0"/>
<text transform="translate(338.60,199.90)" font-size="8.5" text-anchor="start" font-weight="normal" fill="#1a1718" stroke="#1a1718" stroke-width="0.25" textLength="24.2" lengthAdjust="spacingAndGlyphs">pLOCK</text>
<line x1="325.50" y1="208.50" x2="336.00" y2="208.50" stroke="#1e3869" stroke-width="1.8" stroke-linecap="butt"/>
<circle cx="330.70" cy="208.50" r="1.8" fill="#c3cce0" stroke="#1e3869" stroke-width="1.2"/>
<text transform="translate(338.60,210.70)" font-size="8.5" text-anchor="start" font-weight="normal" fill="#1a1718" stroke="#1a1718" stroke-width="0.25" textLength="22.9" lengthAdjust="spacingAndGlyphs">PAK4+</text>
<text transform="translate(71.20,352.10)" font-size="9.8" text-anchor="middle" font-weight="normal" fill="#1a1718" stroke="#1a1718" stroke-width="0.25">H929</text>
<text transform="translate(113.80,352.10)" font-size="9.8" text-anchor="middle" font-weight="normal" fill="#1a1718" stroke="#1a1718" stroke-width="0.25">RPMI 8226</text>
<text transform="translate(62.50,380.20) rotate(-45)" font-size="8.5" text-anchor="start" font-weight="normal" fill="#1a1718" stroke="#1a1718" stroke-width="0.25">WT</text>
<text transform="translate(81.20,380.40) rotate(-45)" font-size="8.5" text-anchor="start" font-weight="normal" fill="#1a1718" stroke="#1a1718" stroke-width="0.25">PAK4+</text>
<text transform="translate(102.00,380.20) rotate(-45)" font-size="8.5" text-anchor="start" font-weight="normal" fill="#1a1718" stroke="#1a1718" stroke-width="0.25">WT</text>
<text transform="translate(119.30,380.40) rotate(-45)" font-size="8.5" text-anchor="start" font-weight="normal" fill="#1a1718" stroke="#1a1718" stroke-width="0.25">PAK4+</text>
<text transform="translate(21.40,393.20)" font-size="8.4" text-anchor="start" font-weight="normal" fill="#1a1718" stroke="#1a1718" stroke-width="0.25">PAK4</text>
<text transform="translate(21.40,406.10)" font-size="8.4" text-anchor="start" font-weight="normal" fill="#1a1718" stroke="#1a1718" stroke-width="0.25">p-NFkB</text>
<text transform="translate(21.40,416.30)" font-size="8.4" text-anchor="start" font-weight="normal" fill="#1a1718" stroke="#1a1718" stroke-width="0.25">p65</text>
<text transform="translate(21.40,427.50)" font-size="8.4" text-anchor="start" font-weight="normal" fill="#1a1718" stroke="#1a1718" stroke-width="0.25">p-bRAF</text>
<text transform="translate(21.40,445.80)" font-size="8.4" text-anchor="start" font-weight="normal" fill="#1a1718" stroke="#1a1718" stroke-width="0.25">p-MEK</text>
<text transform="translate(21.40,459.90)" font-size="8.4" text-anchor="start" font-weight="normal" fill="#1a1718" stroke="#1a1718" stroke-width="0.25">MEK</text>
<text transform="translate(21.40,476.70)" font-size="8.4" text-anchor="start" font-weight="normal" fill="#1a1718" stroke="#1a1718" stroke-width="0.25">p-ERK</text>
<text transform="translate(21.40,494.70)" font-size="8.4" text-anchor="start" font-weight="normal" fill="#1a1718" stroke="#1a1718" stroke-width="0.25">ERK</text>
<text transform="translate(21.40,509.50)" font-size="8.4" text-anchor="start" font-weight="normal" fill="#1a1718" stroke="#1a1718" stroke-width="0.25">p-AKT</text>
<text transform="translate(21.40,521.10)" font-size="8.4" text-anchor="start" font-weight="normal" fill="#1a1718" stroke="#1a1718" stroke-width="0.25">AKT</text>
<text transform="translate(21.40,539.70)" font-size="8.4" text-anchor="start" font-weight="normal" fill="#1a1718" stroke="#1a1718" stroke-width="0.25">p-CREB</text>
<text transform="translate(21.40,559.60)" font-size="8.4" text-anchor="start" font-weight="normal" fill="#1a1718" stroke="#1a1718" stroke-width="0.25">CREB</text>
<text transform="translate(21.40,576.90)" font-size="8.4" text-anchor="start" font-weight="normal" fill="#1a1718" stroke="#1a1718" stroke-width="0.25">GAPDH</text>
<clipPath id="c3"><rect x="53.90" y="382.30" width="33.60" height="13.60"/></clipPath>
<rect x="53.90" y="382.30" width="33.60" height="13.60" fill="#a3a3a3"/>
<g clip-path="url(#c3)"><g filter="url(#b15)">
<ellipse cx="60.40" cy="391.10" rx="8.50" ry="4.10" fill="#000" opacity="0.16"/>
<ellipse cx="77.90" cy="390.20" rx="11.12" ry="7.80" fill="#000" opacity="0.16"/>
</g><g filter="url(#b7)">
<ellipse cx="60.40" cy="391.10" rx="7.48" ry="1.71" fill="#0c0c0c" opacity="1"/>
<rect x="54.08" y="389.30" width="12.65" height="3.61" rx="1.45" fill="#0c0c0c" opacity="1"/>
<ellipse cx="77.90" cy="390.20" rx="9.79" ry="5.04" fill="#050505" opacity="1"/>
<rect x="69.62" y="384.88" width="16.55" height="10.64" rx="4.28" fill="#050505" opacity="1"/>
</g></g>
<clipPath id="c4"><rect x="92.90" y="382.30" width="33.60" height="13.60"/></clipPath>
<rect x="92.90" y="382.30" width="33.60" height="13.60" fill="#b2b2b2"/>
<g clip-path="url(#c4)"><g filter="url(#b15)">
<ellipse cx="102.40" cy="390.60" rx="7.50" ry="3.20" fill="#000" opacity="0.16"/>
<ellipse cx="118.30" cy="390.00" rx="9.38" ry="5.40" fill="#000" opacity="0.16"/>
</g><g filter="url(#b7)">
<ellipse cx="102.40" cy="390.60" rx="6.60" ry="1.12" fill="#1a1a1a" opacity="0.9"/>
<rect x="96.82" y="389.41" width="11.16" height="2.38" rx="0.96" fill="#1a1a1a" opacity="0.9"/>
<ellipse cx="118.30" cy="390.00" rx="8.25" ry="2.88" fill="#080808" opacity="1"/>
<rect x="111.33" y="386.96" width="13.95" height="6.08" rx="2.45" fill="#080808" opacity="1"/>
</g></g>
<clipPath id="c5"><rect x="53.90" y="401.20" width="33.60" height="13.40"/></clipPath>
<rect x="53.90" y="401.20" width="33.60" height="13.40" fill="#a9a9a9"/>
<g clip-path="url(#c5)"><g filter="url(#b15)">
<ellipse cx="62.80" cy="408.70" rx="6.75" ry="3.50" fill="#000" opacity="0.16"/>
<ellipse cx="78.70" cy="406.90" rx="7.75" ry="4.50" fill="#000" opacity="0.16"/>
</g><g filter="url(#b7)">
<ellipse cx="62.80" cy="408.70" rx="5.94" ry="1.40" fill="#111" opacity="0.95"/>
<rect x="57.78" y="407.23" width="10.04" height="2.94" rx="1.19" fill="#111" opacity="0.95"/>
<ellipse cx="78.70" cy="406.90" rx="6.82" ry="2.07" fill="#060606" opacity="1"/>
<rect x="72.93" y="404.71" width="11.53" height="4.37" rx="1.76" fill="#060606" opacity="1"/>
</g></g>
<clipPath id="c6"><rect x="92.90" y="401.20" width="33.60" height="13.40"/></clipPath>
<rect x="92.90" y="401.20" width="33.60" height="13.40" fill="#a0a0a0"/>
<g clip-path="url(#c6)"><g filter="url(#b15)">
<ellipse cx="100.90" cy="409.40" rx="9.00" ry="5.00" fill="#000" opacity="0.16"/>
<ellipse cx="117.80" cy="407.80" rx="10.00" ry="6.60" fill="#000" opacity="0.16"/>
</g><g filter="url(#b7)">
<ellipse cx="100.90" cy="409.40" rx="7.92" ry="2.52" fill="#080808" opacity="1"/>
<rect x="94.20" y="406.74" width="13.39" height="5.32" rx="2.14" fill="#080808" opacity="1"/>
<ellipse cx="117.80" cy="407.80" rx="8.80" ry="3.96" fill="#050505" opacity="1"/>
<rect x="110.36" y="403.62" width="14.88" height="8.36" rx="3.37" fill="#050505" opacity="1"/>
</g></g>
<clipPath id="c7"><rect x="53.90" y="418.40" width="33.60" height="12.60"/></clipPath>
<rect x="53.90" y="418.40" width="33.60" height="12.60" fill="#b8b8b8"/>
<g clip-path="url(#c7)"><g filter="url(#b15)">
<ellipse cx="60.80" cy="423.80" rx="7.25" ry="3.20" fill="#000" opacity="0.16"/>
<ellipse cx="78.50" cy="422.40" rx="7.25" ry="3.70" fill="#000" opacity="0.16"/>
</g><g filter="url(#b7)">
<ellipse cx="60.80" cy="423.80" rx="6.38" ry="1.12" fill="#333" opacity="0.85"/>
<rect x="55.41" y="422.61" width="10.79" height="2.38" rx="0.96" fill="#333" opacity="0.85"/>
<ellipse cx="78.50" cy="422.40" rx="6.38" ry="1.57" fill="#111" opacity="0.97"/>
<rect x="73.11" y="420.74" width="10.79" height="3.32" rx="1.34" fill="#111" opacity="0.97"/>
</g></g>
<clipPath id="c8"><rect x="92.90" y="418.40" width="33.60" height="12.60"/></clipPath>
<rect x="92.90" y="418.40" width="33.60" height="12.60" fill="#d6d6d6"/>
<g clip-path="url(#c8)"><g filter="url(#b15)">
</g><g filter="url(#b7)">
<ellipse cx="113.90" cy="423.90" rx="5.50" ry="1.12" fill="#b5b5b5" opacity="0.7"/>
<rect x="109.25" y="422.71" width="9.30" height="2.38" rx="0.96" fill="#b5b5b5" opacity="0.7"/>
</g></g>
<clipPath id="c9"><rect x="53.90" y="436.60" width="33.60" height="12.00"/></clipPath>
<rect x="53.90" y="436.60" width="33.60" height="12.00" fill="#b0b0b0"/>
<g clip-path="url(#c9)"><g filter="url(#b15)">
<ellipse cx="63.10" cy="442.80" rx="7.12" ry="5.00" fill="#000" opacity="0.16"/>
<ellipse cx="77.40" cy="442.60" rx="8.38" ry="6.50" fill="#000" opacity="0.16"/>
</g><g filter="url(#b7)">
<ellipse cx="63.10" cy="442.80" rx="6.27" ry="2.52" fill="#0a0a0a" opacity="1"/>
<rect x="57.80" y="440.14" width="10.60" height="5.32" rx="2.14" fill="#0a0a0a" opacity="1"/>
<ellipse cx="77.40" cy="442.60" rx="7.37" ry="3.87" fill="#050505" opacity="1"/>
<rect x="71.17" y="438.52" width="12.46" height="8.17" rx="3.29" fill="#050505" opacity="1"/>
</g></g>
<clipPath id="c10"><rect x="92.80" y="436.60" width="33.60" height="12.00"/></clipPath>
<rect x="92.80" y="436.60" width="33.60" height="12.00" fill="#cdcdcd"/>
<g clip-path="url(#c10)"><g filter="url(#b15)">
<ellipse cx="99.30" cy="439.80" rx="6.75" ry="3.40" fill="#000" opacity="0.16"/>
<ellipse cx="116.20" cy="442.00" rx="7.50" ry="3.70" fill="#000" opacity="0.16"/>
</g><g filter="url(#b7)">
<ellipse cx="99.30" cy="439.80" rx="5.94" ry="1.30" fill="#333" opacity="0.85"/>
<rect x="94.28" y="438.42" width="10.04" height="2.75" rx="1.11" fill="#333" opacity="0.85"/>
<ellipse cx="116.20" cy="442.00" rx="6.60" ry="1.57" fill="#222" opacity="0.9"/>
<rect x="110.62" y="440.34" width="11.16" height="3.32" rx="1.34" fill="#222" opacity="0.9"/>
</g></g>
<clipPath id="c11"><rect x="53.90" y="452.30" width="33.60" height="13.20"/></clipPath>
<rect x="53.90" y="452.30" width="33.60" height="13.20" fill="#a5a5a5"/>
<g clip-path="url(#c11)"><g filter="url(#b15)">
<ellipse cx="61.30" cy="457.80" rx="9.00" ry="5.90" fill="#000" opacity="0.16"/>
<ellipse cx="77.90" cy="457.90" rx="9.00" ry="5.80" fill="#000" opacity="0.16"/>
</g><g filter="url(#b7)">
<rect x="54.10" y="454.10" width="14.40" height="7.40" rx="3.33" fill="#080808" opacity="1"/>
<rect x="70.70" y="454.30" width="14.40" height="7.20" rx="3.24" fill="#080808" opacity="1"/>
</g></g>
<clipPath id="c12"><rect x="92.80" y="452.30" width="33.60" height="13.20"/></clipPath>
<rect x="92.80" y="452.30" width="33.60" height="13.20" fill="#a5a5a5"/>
<g clip-path="url(#c12)"><g filter="url(#b15)">
<ellipse cx="101.90" cy="457.40" rx="9.12" ry="6.60" fill="#000" opacity="0.16"/>
<ellipse cx="118.20" cy="457.70" rx="9.38" ry="5.90" fill="#000" opacity="0.16"/>
</g><g filter="url(#b7)">
<rect x="94.60" y="453.00" width="14.60" height="8.80" rx="3.96" fill="#050505" opacity="1"/>
<rect x="110.70" y="454.00" width="15.00" height="7.40" rx="3.33" fill="#080808" opacity="1"/>
</g></g>
<clipPath id="c13"><rect x="53.90" y="468.90" width="33.60" height="12.60"/></clipPath>
<rect x="53.90" y="468.90" width="33.60" height="12.60" fill="#adadad"/>
<g clip-path="url(#c13)"><g filter="url(#b15)">
<ellipse cx="62.80" cy="474.90" rx="8.00" ry="5.20" fill="#000" opacity="0.16"/>
<ellipse cx="78.80" cy="474.40" rx="9.12" ry="6.50" fill="#000" opacity="0.16"/>
</g><g filter="url(#b7)">
<ellipse cx="62.80" cy="474.90" rx="7.04" ry="2.70" fill="#0a0a0a" opacity="1"/>
<rect x="56.85" y="472.05" width="11.90" height="5.70" rx="2.29" fill="#0a0a0a" opacity="1"/>
<ellipse cx="78.80" cy="474.40" rx="8.03" ry="3.87" fill="#050505" opacity="1"/>
<rect x="72.01" y="470.31" width="13.58" height="8.17" rx="3.29" fill="#050505" opacity="1"/>
</g></g>
<clipPath id="c14"><rect x="92.80" y="468.90" width="33.60" height="12.60"/></clipPath>
<rect x="92.80" y="468.90" width="33.60" height="12.60" fill="#c8c8c8"/>
<g clip-path="url(#c14)"><g filter="url(#b15)">
<ellipse cx="100.80" cy="472.90" rx="6.75" ry="3.50" fill="#000" opacity="0.16"/>
<ellipse cx="118.00" cy="473.20" rx="6.25" ry="3.70" fill="#000" opacity="0.16"/>
</g><g filter="url(#b7)">
<ellipse cx="100.80" cy="472.90" rx="5.94" ry="1.40" fill="#666" opacity="0.8"/>
<rect x="95.78" y="471.43" width="10.04" height="2.94" rx="1.19" fill="#666" opacity="0.8"/>
<ellipse cx="118.00" cy="473.20" rx="5.50" ry="1.57" fill="#555" opacity="0.8"/>
<rect x="113.35" y="471.54" width="9.30" height="3.32" rx="1.34" fill="#555" opacity="0.8"/>
</g></g>
<clipPath id="c15"><rect x="53.90" y="485.40" width="33.60" height="13.10"/></clipPath>
<rect x="53.90" y="485.40" width="33.60" height="13.10" fill="#858585"/>
<g clip-path="url(#c15)"><g filter="url(#b15)">
<ellipse cx="60.50" cy="491.40" rx="8.00" ry="7.70" fill="#000" opacity="0.16"/>
<ellipse cx="77.20" cy="491.70" rx="9.25" ry="8.00" fill="#000" opacity="0.16"/>
</g><g filter="url(#b9)">
<rect x="54.10" y="485.90" width="12.80" height="11.00" rx="2.20" fill="#0c0c0c" opacity="1"/>
<rect x="69.80" y="485.90" width="14.80" height="11.60" rx="2.20" fill="#0a0a0a" opacity="1"/>
</g></g>
<clipPath id="c16"><rect x="92.80" y="485.40" width="33.60" height="13.10"/></clipPath>
<rect x="92.80" y="485.40" width="33.60" height="13.10" fill="#8f8f8f"/>
<g clip-path="url(#c16)"><g filter="url(#b15)">
<ellipse cx="100.80" cy="491.40" rx="9.50" ry="7.70" fill="#000" opacity="0.16"/>
<ellipse cx="117.10" cy="491.70" rx="8.50" ry="8.00" fill="#000" opacity="0.16"/>
</g><g filter="url(#b9)">
<rect x="93.20" y="485.90" width="15.20" height="11.00" rx="2.20" fill="#0a0a0a" opacity="1"/>
<rect x="110.30" y="485.90" width="13.60" height="11.60" rx="2.20" fill="#0a0a0a" opacity="1"/>
</g></g>
<clipPath id="c17"><rect x="53.90" y="501.50" width="33.60" height="10.00"/></clipPath>
<rect x="53.90" y="501.50" width="33.60" height="10.00" fill="#a8a8a8"/>
<g clip-path="url(#c17)"><g filter="url(#b15)">
<ellipse cx="61.10" cy="507.70" rx="8.12" ry="3.70" fill="#000" opacity="0.16"/>
<ellipse cx="78.80" cy="507.30" rx="9.12" ry="4.80" fill="#000" opacity="0.16"/>
</g><g filter="url(#b9)">
<ellipse cx="61.10" cy="507.70" rx="7.15" ry="1.57" fill="#333" opacity="0.8"/>
<rect x="55.05" y="506.04" width="12.09" height="3.32" rx="1.34" fill="#333" opacity="0.8"/>
<ellipse cx="78.80" cy="507.30" rx="8.03" ry="2.34" fill="#111" opacity="0.97"/>
<rect x="72.01" y="504.83" width="13.58" height="4.94" rx="1.99" fill="#111" opacity="0.97"/>
</g></g>
<clipPath id="c18"><rect x="92.80" y="501.50" width="33.60" height="10.00"/></clipPath>
<rect x="92.80" y="501.50" width="33.60" height="10.00" fill="#c6c6c6"/>
<g clip-path="url(#c18)"><g filter="url(#b15)">
<ellipse cx="100.00" cy="508.00" rx="6.25" ry="4.80" fill="#000" opacity="0.16"/>
<ellipse cx="117.00" cy="507.50" rx="6.25" ry="4.80" fill="#000" opacity="0.16"/>
</g><g filter="url(#b15)">
<ellipse cx="100.00" cy="508.00" rx="5.50" ry="2.34" fill="#a8a8a8" opacity="0.8"/>
<rect x="95.35" y="505.53" width="9.30" height="4.94" rx="1.99" fill="#a8a8a8" opacity="0.8"/>
<ellipse cx="117.00" cy="507.50" rx="5.50" ry="2.34" fill="#a8a8a8" opacity="0.8"/>
<rect x="112.35" y="505.03" width="9.30" height="4.94" rx="1.99" fill="#a8a8a8" opacity="0.8"/>
</g></g>
<clipPath id="c19"><rect x="53.90" y="515.10" width="33.60" height="8.00"/></clipPath>
<rect x="53.90" y="515.10" width="33.60" height="8.00" fill="#a5a5a5"/>
<g clip-path="url(#c19)"><g filter="url(#b15)">
<ellipse cx="61.40" cy="518.70" rx="8.50" ry="4.30" fill="#000" opacity="0.16"/>
<ellipse cx="78.70" cy="518.50" rx="8.75" ry="4.50" fill="#000" opacity="0.16"/>
</g><g filter="url(#b7)">
<ellipse cx="61.40" cy="518.70" rx="7.48" ry="1.89" fill="#0a0a0a" opacity="1"/>
<rect x="55.08" y="516.71" width="12.65" height="3.99" rx="1.61" fill="#0a0a0a" opacity="1"/>
<ellipse cx="78.70" cy="518.50" rx="7.70" ry="2.07" fill="#080808" opacity="1"/>
<rect x="72.19" y="516.32" width="13.02" height="4.37" rx="1.76" fill="#080808" opacity="1"/>
</g></g>
<clipPath id="c20"><rect x="92.80" y="515.10" width="33.60" height="8.00"/></clipPath>
<rect x="92.80" y="515.10" width="33.60" height="8.00" fill="#aaaaaa"/>
<g clip-path="url(#c20)"><g filter="url(#b15)">
<ellipse cx="100.40" cy="518.10" rx="9.12" ry="4.10" fill="#000" opacity="0.16"/>
<ellipse cx="117.00" cy="519.60" rx="8.75" ry="4.50" fill="#000" opacity="0.16"/>
</g><g filter="url(#b7)">
<ellipse cx="100.40" cy="518.10" rx="8.03" ry="1.71" fill="#0a0a0a" opacity="1"/>
<rect x="93.61" y="516.30" width="13.58" height="3.61" rx="1.45" fill="#0a0a0a" opacity="1"/>
<ellipse cx="117.00" cy="519.60" rx="7.70" ry="2.07" fill="#080808" opacity="1"/>
<rect x="110.49" y="517.42" width="13.02" height="4.37" rx="1.76" fill="#080808" opacity="1"/>
</g></g>
<clipPath id="c21"><rect x="53.90" y="528.20" width="33.60" height="16.30"/></clipPath>
<rect x="53.90" y="528.20" width="33.60" height="16.30" fill="#a8a8a8"/>
<g clip-path="url(#c21)"><g filter="url(#b15)">
<ellipse cx="59.60" cy="534.00" rx="6.25" ry="3.50" fill="#000" opacity="0.16"/>
<ellipse cx="60.40" cy="539.90" rx="7.25" ry="4.40" fill="#000" opacity="0.16"/>
<ellipse cx="77.60" cy="534.40" rx="7.50" ry="4.00" fill="#000" opacity="0.16"/>
<ellipse cx="77.40" cy="540.00" rx="7.75" ry="4.30" fill="#000" opacity="0.16"/>
</g><g filter="url(#b7)">
<ellipse cx="59.60" cy="534.00" rx="5.50" ry="1.40" fill="#444" opacity="0.8"/>
<rect x="54.95" y="532.53" width="9.30" height="2.94" rx="1.19" fill="#444" opacity="0.8"/>
<ellipse cx="60.40" cy="539.90" rx="6.38" ry="1.98" fill="#111" opacity="1"/>
<rect x="55.01" y="537.81" width="10.79" height="4.18" rx="1.68" fill="#111" opacity="1"/>
<ellipse cx="77.60" cy="534.40" rx="6.60" ry="1.62" fill="#1a1a1a" opacity="0.97"/>
<rect x="72.02" y="532.69" width="11.16" height="3.42" rx="1.38" fill="#1a1a1a" opacity="0.97"/>
<ellipse cx="77.40" cy="540.00" rx="6.82" ry="1.89" fill="#111" opacity="1"/>
<rect x="71.63" y="538.00" width="11.53" height="3.99" rx="1.61" fill="#111" opacity="1"/>
</g></g>
<clipPath id="c22"><rect x="92.80" y="528.20" width="33.60" height="16.30"/></clipPath>
<rect x="92.80" y="528.20" width="33.60" height="16.30" fill="#b5b5b5"/>
<g clip-path="url(#c22)"><g filter="url(#b15)">
<ellipse cx="117.60" cy="535.60" rx="7.50" ry="3.60" fill="#000" opacity="0.16"/>
<ellipse cx="117.30" cy="540.40" rx="7.25" ry="3.90" fill="#000" opacity="0.16"/>
</g><g filter="url(#b7)">
<ellipse cx="100.00" cy="534.40" rx="5.94" ry="1.03" fill="#555" opacity="0.7"/>
<rect x="94.98" y="533.31" width="10.04" height="2.18" rx="0.88" fill="#555" opacity="0.7"/>
<ellipse cx="99.30" cy="538.50" rx="5.06" ry="0.95" fill="#666" opacity="0.6"/>
<rect x="95.02" y="537.50" width="8.56" height="1.99" rx="0.80" fill="#666" opacity="0.6"/>
<ellipse cx="117.60" cy="535.60" rx="6.60" ry="1.48" fill="#2a2a2a" opacity="0.9"/>
<rect x="112.02" y="534.03" width="11.16" height="3.13" rx="1.26" fill="#2a2a2a" opacity="0.9"/>
<ellipse cx="117.30" cy="540.40" rx="6.38" ry="1.53" fill="#222" opacity="0.95"/>
<rect x="111.91" y="538.79" width="10.79" height="3.23" rx="1.30" fill="#222" opacity="0.95"/>
</g></g>
<clipPath id="c23"><rect x="53.90" y="549.80" width="33.60" height="15.00"/></clipPath>
<rect x="53.90" y="549.80" width="33.60" height="15.00" fill="#9a9a9a"/>
<g clip-path="url(#c23)"><g filter="url(#b15)">
<ellipse cx="61.10" cy="554.00" rx="8.12" ry="4.50" fill="#000" opacity="0.16"/>
<ellipse cx="61.10" cy="560.10" rx="8.12" ry="4.60" fill="#000" opacity="0.16"/>
<ellipse cx="78.40" cy="555.00" rx="8.50" ry="4.20" fill="#000" opacity="0.16"/>
<ellipse cx="78.40" cy="561.10" rx="8.50" ry="4.70" fill="#000" opacity="0.16"/>
</g><g filter="url(#b7)">
<ellipse cx="61.10" cy="554.00" rx="7.15" ry="2.07" fill="#0a0a0a" opacity="1"/>
<rect x="55.05" y="551.82" width="12.09" height="4.37" rx="1.76" fill="#0a0a0a" opacity="1"/>
<ellipse cx="61.10" cy="560.10" rx="7.15" ry="2.16" fill="#0a0a0a" opacity="1"/>
<rect x="55.05" y="557.82" width="12.09" height="4.56" rx="1.84" fill="#0a0a0a" opacity="1"/>
<ellipse cx="78.40" cy="555.00" rx="7.48" ry="1.80" fill="#111" opacity="1"/>
<rect x="72.08" y="553.10" width="12.65" height="3.80" rx="1.53" fill="#111" opacity="1"/>
<ellipse cx="78.40" cy="561.10" rx="7.48" ry="2.25" fill="#0a0a0a" opacity="1"/>
<rect x="72.08" y="558.72" width="12.65" height="4.75" rx="1.91" fill="#0a0a0a" opacity="1"/>
</g></g>
<clipPath id="c24"><rect x="92.80" y="549.80" width="33.60" height="15.00"/></clipPath>
<rect x="92.80" y="549.80" width="33.60" height="15.00" fill="#a3a3a3"/>
<g clip-path="url(#c24)"><g filter="url(#b15)">
<ellipse cx="101.10" cy="556.40" rx="8.12" ry="4.00" fill="#000" opacity="0.16"/>
<ellipse cx="100.80" cy="561.00" rx="7.50" ry="3.70" fill="#000" opacity="0.16"/>
<ellipse cx="118.60" cy="557.80" rx="8.75" ry="4.10" fill="#000" opacity="0.16"/>
<ellipse cx="118.60" cy="562.60" rx="8.75" ry="4.00" fill="#000" opacity="0.16"/>
</g><g filter="url(#b7)">
<ellipse cx="101.10" cy="556.40" rx="7.15" ry="1.62" fill="#111" opacity="1"/>
<rect x="95.05" y="554.69" width="12.09" height="3.42" rx="1.38" fill="#111" opacity="1"/>
<ellipse cx="100.80" cy="561.00" rx="6.60" ry="1.57" fill="#2a2a2a" opacity="0.95"/>
<rect x="95.22" y="559.34" width="11.16" height="3.32" rx="1.34" fill="#2a2a2a" opacity="0.95"/>
<ellipse cx="118.60" cy="557.80" rx="7.70" ry="1.71" fill="#0a0a0a" opacity="1"/>
<rect x="112.09" y="556.00" width="13.02" height="3.61" rx="1.45" fill="#0a0a0a" opacity="1"/>
<ellipse cx="118.60" cy="562.60" rx="7.70" ry="1.62" fill="#0a0a0a" opacity="1"/>
<rect x="112.09" y="560.89" width="13.02" height="3.42" rx="1.38" fill="#0a0a0a" opacity="1"/>
</g></g>
<clipPath id="c25"><rect x="53.90" y="569.40" width="33.60" height="10.00"/></clipPath>
<rect x="53.90" y="569.40" width="33.60" height="10.00" fill="#a8a8a8"/>
<g clip-path="url(#c25)"><g filter="url(#b15)">
<ellipse cx="61.70" cy="573.60" rx="8.00" ry="4.10" fill="#000" opacity="0.16"/>
<ellipse cx="78.20" cy="573.30" rx="8.62" ry="5.10" fill="#000" opacity="0.16"/>
</g><g filter="url(#b7)">
<ellipse cx="61.70" cy="573.60" rx="7.04" ry="1.71" fill="#0a0a0a" opacity="1"/>
<rect x="55.75" y="571.80" width="11.90" height="3.61" rx="1.45" fill="#0a0a0a" opacity="1"/>
<ellipse cx="78.20" cy="573.30" rx="7.59" ry="2.61" fill="#080808" opacity="1"/>
<rect x="71.78" y="570.54" width="12.83" height="5.51" rx="2.22" fill="#080808" opacity="1"/>
</g></g>
<clipPath id="c26"><rect x="92.80" y="569.40" width="33.60" height="10.00"/></clipPath>
<rect x="92.80" y="569.40" width="33.60" height="10.00" fill="#a0a0a0"/>
<g clip-path="url(#c26)"><g filter="url(#b15)">
<ellipse cx="100.00" cy="572.70" rx="8.75" ry="5.10" fill="#000" opacity="0.16"/>
<ellipse cx="116.50" cy="573.40" rx="9.12" ry="5.40" fill="#000" opacity="0.16"/>
</g><g filter="url(#b7)">
<ellipse cx="100.00" cy="572.70" rx="7.70" ry="2.61" fill="#050505" opacity="1"/>
<rect x="93.49" y="569.94" width="13.02" height="5.51" rx="2.22" fill="#050505" opacity="1"/>
<ellipse cx="116.50" cy="573.40" rx="8.03" ry="2.88" fill="#050505" opacity="1"/>
<rect x="109.71" y="570.36" width="13.58" height="6.08" rx="2.45" fill="#050505" opacity="1"/>
</g></g>
<rect x="220.00" y="421.99" width="12.40" height="29.01" fill="#a50328"/>
<line x1="226.20" y1="417.04" x2="226.20" y2="422.29" stroke="#1d1d1f" stroke-width="1.2" stroke-linecap="butt"/>
<line x1="222.70" y1="417.04" x2="229.70" y2="417.04" stroke="#1d1d1f" stroke-width="1.2" stroke-linecap="butt"/>
<rect x="239.20" y="430.48" width="12.40" height="20.52" fill="#a50328"/>
<line x1="245.40" y1="428.36" x2="245.40" y2="430.78" stroke="#1d1d1f" stroke-width="1.2" stroke-linecap="butt"/>
<line x1="241.90" y1="428.36" x2="248.90" y2="428.36" stroke="#1d1d1f" stroke-width="1.2" stroke-linecap="butt"/>
<rect x="258.00" y="421.99" width="12.40" height="29.01" fill="#a50328"/>
<line x1="264.20" y1="415.62" x2="264.20" y2="422.29" stroke="#1d1d1f" stroke-width="1.2" stroke-linecap="butt"/>
<line x1="260.70" y1="415.62" x2="267.70" y2="415.62" stroke="#1d1d1f" stroke-width="1.2" stroke-linecap="butt"/>
<rect x="288.80" y="380.70" width="12.90" height="70.30" fill="#2c4c84"/>
<rect x="307.50" y="396.32" width="12.90" height="54.68" fill="#2c4c84"/>
<line x1="313.95" y1="394.62" x2="313.95" y2="396.62" stroke="#1d1d1f" stroke-width="1.2" stroke-linecap="butt"/>
<line x1="310.45" y1="394.62" x2="317.45" y2="394.62" stroke="#1d1d1f" stroke-width="1.2" stroke-linecap="butt"/>
<rect x="326.70" y="384.96" width="12.90" height="66.04" fill="#2c4c84"/>
<line x1="333.15" y1="383.26" x2="333.15" y2="385.26" stroke="#1d1d1f" stroke-width="1.2" stroke-linecap="butt"/>
<line x1="329.65" y1="383.26" x2="336.65" y2="383.26" stroke="#1d1d1f" stroke-width="1.2" stroke-linecap="butt"/>
<rect x="212.10" y="402.30" width="150.00" height="6.00" fill="#ffffff"/>
<line x1="210.60" y1="356.90" x2="210.60" y2="402.00" stroke="#1a1718" stroke-width="1.3" stroke-linecap="butt"/>
<line x1="210.60" y1="408.60" x2="210.60" y2="451.65" stroke="#1a1718" stroke-width="1.3" stroke-linecap="butt"/>
<line x1="207.40" y1="359.40" x2="210.60" y2="359.40" stroke="#1a1718" stroke-width="1.3" stroke-linecap="butt"/>
<text transform="translate(205.20,362.40)" font-size="8.3" text-anchor="end" font-weight="normal" fill="#1a1718" stroke="#1a1718" stroke-width="0.25">20000</text>
<line x1="207.40" y1="373.60" x2="210.60" y2="373.60" stroke="#1a1718" stroke-width="1.3" stroke-linecap="butt"/>
<text transform="translate(205.20,376.60)" font-size="8.3" text-anchor="end" font-weight="normal" fill="#1a1718" stroke="#1a1718" stroke-width="0.25">15000</text>
<line x1="207.40" y1="387.80" x2="210.60" y2="387.80" stroke="#1a1718" stroke-width="1.3" stroke-linecap="butt"/>
<text transform="translate(205.20,390.80)" font-size="8.3" text-anchor="end" font-weight="normal" fill="#1a1718" stroke="#1a1718" stroke-width="0.25">10000</text>
<line x1="207.00" y1="402.00" x2="213.80" y2="402.00" stroke="#1a1718" stroke-width="1.3" stroke-linecap="butt"/>
<text transform="translate(205.20,405.00)" font-size="8.3" text-anchor="end" font-weight="normal" fill="#1a1718" stroke="#1a1718" stroke-width="0.25">5000</text>
<line x1="207.00" y1="408.55" x2="213.80" y2="408.55" stroke="#1a1718" stroke-width="1.3" stroke-linecap="butt"/>
<text transform="translate(205.20,411.55)" font-size="8.3" text-anchor="end" font-weight="normal" fill="#1a1718" stroke="#1a1718" stroke-width="0.25">3000</text>
<line x1="207.40" y1="422.70" x2="210.60" y2="422.70" stroke="#1a1718" stroke-width="1.3" stroke-linecap="butt"/>
<text transform="translate(205.20,425.70)" font-size="8.3" text-anchor="end" font-weight="normal" fill="#1a1718" stroke="#1a1718" stroke-width="0.25">2000</text>
<line x1="207.40" y1="436.85" x2="210.60" y2="436.85" stroke="#1a1718" stroke-width="1.3" stroke-linecap="butt"/>
<text transform="translate(205.20,439.85)" font-size="8.3" text-anchor="end" font-weight="normal" fill="#1a1718" stroke="#1a1718" stroke-width="0.25">1000</text>
<line x1="207.40" y1="451.00" x2="210.60" y2="451.00" stroke="#1a1718" stroke-width="1.3" stroke-linecap="butt"/>
<text transform="translate(205.20,454.00)" font-size="8.3" text-anchor="end" font-weight="normal" fill="#1a1718" stroke="#1a1718" stroke-width="0.25">0</text>
<line x1="209.95" y1="451.00" x2="348.80" y2="451.00" stroke="#1a1718" stroke-width="1.3" stroke-linecap="butt"/>
<line x1="226.20" y1="451.00" x2="226.20" y2="454.30" stroke="#1a1718" stroke-width="1.3" stroke-linecap="butt"/>
<text transform="translate(228.60,462.00) rotate(-45)" font-size="8.3" text-anchor="end" font-weight="normal" fill="#1a1718" stroke="#1a1718" stroke-width="0.25" textLength="15.5" lengthAdjust="spacingAndGlyphs">CNT</text>
<line x1="245.40" y1="451.00" x2="245.40" y2="454.30" stroke="#1a1718" stroke-width="1.3" stroke-linecap="butt"/>
<text transform="translate(247.80,462.00) rotate(-45)" font-size="8.3" text-anchor="end" font-weight="normal" fill="#1a1718" stroke="#1a1718" stroke-width="0.25" textLength="23" lengthAdjust="spacingAndGlyphs">U0126</text>
<line x1="264.20" y1="451.00" x2="264.20" y2="454.30" stroke="#1a1718" stroke-width="1.3" stroke-linecap="butt"/>
<text transform="translate(266.60,462.00) rotate(-45)" font-size="8.3" text-anchor="end" font-weight="normal" fill="#1a1718" stroke="#1a1718" stroke-width="0.25" textLength="37" lengthAdjust="spacingAndGlyphs">LY294002</text>
<line x1="295.20" y1="451.00" x2="295.20" y2="454.30" stroke="#1a1718" stroke-width="1.3" stroke-linecap="butt"/>
<text transform="translate(297.60,462.00) rotate(-45)" font-size="8.3" text-anchor="end" font-weight="normal" fill="#1a1718" stroke="#1a1718" stroke-width="0.25" textLength="15.5" lengthAdjust="spacingAndGlyphs">CNT</text>
<line x1="313.90" y1="451.00" x2="313.90" y2="454.30" stroke="#1a1718" stroke-width="1.3" stroke-linecap="butt"/>
<text transform="translate(316.30,462.00) rotate(-45)" font-size="8.3" text-anchor="end" font-weight="normal" fill="#1a1718" stroke="#1a1718" stroke-width="0.25" textLength="23" lengthAdjust="spacingAndGlyphs">U0126</text>
<line x1="333.10" y1="451.00" x2="333.10" y2="454.30" stroke="#1a1718" stroke-width="1.3" stroke-linecap="butt"/>
<text transform="translate(335.50,462.00) rotate(-45)" font-size="8.3" text-anchor="end" font-weight="normal" fill="#1a1718" stroke="#1a1718" stroke-width="0.25" textLength="37" lengthAdjust="spacingAndGlyphs">LY294002</text>
<polyline points="225.80,408.00 225.80,403.80 245.60,403.80 245.60,420.80" fill="none" stroke="#1a1718" stroke-width="1.4"/>
<text transform="translate(235.50,401.90)" font-size="8.3" text-anchor="middle" font-weight="normal" fill="#1a1718" stroke="#1a1718" stroke-width="0.25">NS</text>
<polyline points="225.8,397.3 225.8,392.1 264.6,392.1 264.6,408.7" fill="none" stroke="#1a1718" stroke-width="1.25"/>
<text transform="translate(244.80,390.80)" font-size="8.3" text-anchor="middle" font-weight="normal" fill="#1a1718" stroke="#1a1718" stroke-width="0.25">NS</text>
<polyline points="295.00,375.40 295.00,369.00 314.60,369.00 314.60,388.30" fill="none" stroke="#1a1718" stroke-width="1.4"/>
<text transform="translate(296.00,366.50)" font-size="8.3" text-anchor="start" font-weight="normal" fill="#1a1718" stroke="#1a1718" stroke-width="0.25" textLength="27.5" lengthAdjust="spacingAndGlyphs">p=0.009</text>
<polyline points="295.00,362.00 295.00,356.90 333.10,356.90 333.10,373.00" fill="none" stroke="#1a1718" stroke-width="1.4"/>
<text transform="translate(314.30,354.60)" font-size="8.3" text-anchor="middle" font-weight="normal" fill="#1a1718" stroke="#1a1718" stroke-width="0.25">NS</text>
<rect x="216.90" y="357.40" width="10.20" height="4.50" fill="#a50328"/>
<text transform="translate(230.00,362.30)" font-size="8.3" text-anchor="start" font-weight="normal" fill="#1a1718" stroke="#1a1718" stroke-width="0.25" textLength="24.5" lengthAdjust="spacingAndGlyphs">pLOCK</text>
<rect x="216.90" y="368.40" width="10.20" height="4.50" fill="#2c4c84"/>
<text transform="translate(230.00,372.90)" font-size="8.3" text-anchor="start" font-weight="normal" fill="#1a1718" stroke="#1a1718" stroke-width="0.25" textLength="24.5" lengthAdjust="spacingAndGlyphs">PAK4+</text>
<text transform="translate(177.40,406.00) rotate(-90)" font-size="10" text-anchor="middle" font-weight="normal" fill="#1a1718" stroke="#1a1718" stroke-width="0.25" textLength="80.5" lengthAdjust="spacingAndGlyphs">Count/minute (CPM)</text>
<text transform="translate(275.10,499.70)" font-size="10.3" text-anchor="middle" font-weight="normal" fill="#1a1718" stroke="#1a1718" stroke-width="0.25" textLength="40.6" lengthAdjust="spacingAndGlyphs">RPMI8226</text>
<rect x="223.30" y="553.55" width="17.70" height="59.45" fill="#a50328"/>
<line x1="232.15" y1="552.18" x2="232.15" y2="553.85" stroke="#1d1d1f" stroke-width="1.2" stroke-linecap="butt"/>
<line x1="228.65" y1="552.18" x2="235.65" y2="552.18" stroke="#1d1d1f" stroke-width="1.2" stroke-linecap="butt"/>
<rect x="248.80" y="557.14" width="17.90" height="55.86" fill="#a50328"/>
<line x1="257.75" y1="556.08" x2="257.75" y2="557.44" stroke="#1d1d1f" stroke-width="1.2" stroke-linecap="butt"/>
<line x1="254.25" y1="556.08" x2="261.25" y2="556.08" stroke="#1d1d1f" stroke-width="1.2" stroke-linecap="butt"/>
<rect x="292.10" y="522.96" width="17.70" height="90.04" fill="#2c4c84"/>
<line x1="297.45" y1="522.96" x2="304.45" y2="522.96" stroke="#1d1d1f" stroke-width="1.0" stroke-linecap="butt"/>
<rect x="317.80" y="540.78" width="17.20" height="72.22" fill="#2c4c84"/>
<line x1="326.40" y1="539.20" x2="326.40" y2="541.08" stroke="#1d1d1f" stroke-width="1.2" stroke-linecap="butt"/>
<line x1="322.90" y1="539.20" x2="329.90" y2="539.20" stroke="#1d1d1f" stroke-width="1.2" stroke-linecap="butt"/>
<rect x="212.10" y="564.40" width="150.00" height="6.30" fill="#ffffff"/>
<line x1="210.60" y1="519.20" x2="210.60" y2="564.10" stroke="#1a1718" stroke-width="1.3" stroke-linecap="butt"/>
<line x1="210.60" y1="571.00" x2="210.60" y2="613.65" stroke="#1a1718" stroke-width="1.3" stroke-linecap="butt"/>
<line x1="207.40" y1="521.90" x2="210.60" y2="521.90" stroke="#1a1718" stroke-width="1.3" stroke-linecap="butt"/>
<text transform="translate(205.20,524.90)" font-size="8.3" text-anchor="end" font-weight="normal" fill="#1a1718" stroke="#1a1718" stroke-width="0.25">25000</text>
<line x1="207.40" y1="532.45" x2="210.60" y2="532.45" stroke="#1a1718" stroke-width="1.3" stroke-linecap="butt"/>
<text transform="translate(205.20,535.45)" font-size="8.3" text-anchor="end" font-weight="normal" fill="#1a1718" stroke="#1a1718" stroke-width="0.25">20000</text>
<line x1="207.40" y1="543.00" x2="210.60" y2="543.00" stroke="#1a1718" stroke-width="1.3" stroke-linecap="butt"/>
<text transform="translate(205.20,546.00)" font-size="8.3" text-anchor="end" font-weight="normal" fill="#1a1718" stroke="#1a1718" stroke-width="0.25">15000</text>
<line x1="207.40" y1="553.55" x2="210.60" y2="553.55" stroke="#1a1718" stroke-width="1.3" stroke-linecap="butt"/>
<text transform="translate(205.20,556.55)" font-size="8.3" text-anchor="end" font-weight="normal" fill="#1a1718" stroke="#1a1718" stroke-width="0.25">10000</text>
<line x1="207.00" y1="564.10" x2="213.80" y2="564.10" stroke="#1a1718" stroke-width="1.3" stroke-linecap="butt"/>
<text transform="translate(205.20,567.10)" font-size="8.3" text-anchor="end" font-weight="normal" fill="#1a1718" stroke="#1a1718" stroke-width="0.25">5000</text>
<line x1="207.00" y1="571.00" x2="213.80" y2="571.00" stroke="#1a1718" stroke-width="1.3" stroke-linecap="butt"/>
<text transform="translate(205.20,574.00)" font-size="8.3" text-anchor="end" font-weight="normal" fill="#1a1718" stroke="#1a1718" stroke-width="0.25">3000</text>
<line x1="207.40" y1="585.00" x2="210.60" y2="585.00" stroke="#1a1718" stroke-width="1.3" stroke-linecap="butt"/>
<text transform="translate(205.20,588.00)" font-size="8.3" text-anchor="end" font-weight="normal" fill="#1a1718" stroke="#1a1718" stroke-width="0.25">2000</text>
<line x1="207.40" y1="599.00" x2="210.60" y2="599.00" stroke="#1a1718" stroke-width="1.3" stroke-linecap="butt"/>
<text transform="translate(205.20,602.00)" font-size="8.3" text-anchor="end" font-weight="normal" fill="#1a1718" stroke="#1a1718" stroke-width="0.25">1000</text>
<line x1="207.40" y1="613.00" x2="210.60" y2="613.00" stroke="#1a1718" stroke-width="1.3" stroke-linecap="butt"/>
<text transform="translate(205.20,616.00)" font-size="8.3" text-anchor="end" font-weight="normal" fill="#1a1718" stroke="#1a1718" stroke-width="0.25">0</text>
<line x1="209.95" y1="613.00" x2="348.40" y2="613.00" stroke="#1a1718" stroke-width="1.3" stroke-linecap="butt"/>
<line x1="231.90" y1="613.00" x2="231.90" y2="616.30" stroke="#1a1718" stroke-width="1.3" stroke-linecap="butt"/>
<text transform="translate(233.50,626.20) rotate(-45)" font-size="8.3" text-anchor="end" font-weight="normal" fill="#1a1718" stroke="#1a1718" stroke-width="0.25" textLength="15.5" lengthAdjust="spacingAndGlyphs">CNT</text>
<line x1="257.90" y1="613.00" x2="257.90" y2="616.30" stroke="#1a1718" stroke-width="1.3" stroke-linecap="butt"/>
<text transform="translate(259.50,626.20) rotate(-45)" font-size="8.3" text-anchor="end" font-weight="normal" fill="#1a1718" stroke="#1a1718" stroke-width="0.25" textLength="23" lengthAdjust="spacingAndGlyphs">U0126</text>
<line x1="301.20" y1="613.00" x2="301.20" y2="616.30" stroke="#1a1718" stroke-width="1.3" stroke-linecap="butt"/>
<text transform="translate(302.80,626.20) rotate(-45)" font-size="8.3" text-anchor="end" font-weight="normal" fill="#1a1718" stroke="#1a1718" stroke-width="0.25" textLength="15.5" lengthAdjust="spacingAndGlyphs">CNT</text>
<line x1="326.40" y1="613.00" x2="326.40" y2="616.30" stroke="#1a1718" stroke-width="1.3" stroke-linecap="butt"/>
<text transform="translate(328.00,626.20) rotate(-45)" font-size="8.3" text-anchor="end" font-weight="normal" fill="#1a1718" stroke="#1a1718" stroke-width="0.25" textLength="23" lengthAdjust="spacingAndGlyphs">U0126</text>
<polyline points="231.50,548.00 231.50,541.40 258.80,541.40 258.80,549.60" fill="none" stroke="#1a1718" stroke-width="1.4"/>
<text transform="translate(266.30,550.40)" font-size="8.3" text-anchor="middle" font-weight="normal" fill="#1a1718" stroke="#1a1718" stroke-width="0.25">NS</text>
<polyline points="301.20,517.00 301.20,511.20 328.10,511.20 328.10,526.00" fill="none" stroke="#1a1718" stroke-width="1.4"/>
<text transform="translate(312.70,535.60)" font-size="8.3" text-anchor="start" font-weight="normal" fill="#1a1718" stroke="#1a1718" stroke-width="0.25" textLength="26.5" lengthAdjust="spacingAndGlyphs">p=0.001</text>
<rect x="219.40" y="516.90" width="10.40" height="4.50" fill="#a50328"/>
<text transform="translate(232.30,521.20)" font-size="8.3" text-anchor="start" font-weight="normal" fill="#1a1718" stroke="#1a1718" stroke-width="0.25" textLength="24.5" lengthAdjust="spacingAndGlyphs">pLOCK</text>
<rect x="219.40" y="527.40" width="10.40" height="4.50" fill="#2c4c84"/>
<text transform="translate(232.30,531.70)" font-size="8.3" text-anchor="start" font-weight="normal" fill="#1a1718" stroke="#1a1718" stroke-width="0.25" textLength="24.5" lengthAdjust="spacingAndGlyphs">PAK4+</text>
<text transform="translate(177.40,569.30) rotate(-90)" font-size="10" text-anchor="middle" font-weight="normal" fill="#1a1718" stroke="#1a1718" stroke-width="0.25" textLength="80.5" lengthAdjust="spacingAndGlyphs">Count/minute (CPM)</text>
<text transform="translate(278.40,654.40)" font-size="10.3" text-anchor="middle" font-weight="normal" fill="#1a1718" stroke="#1a1718" stroke-width="0.25" textLength="19.4" lengthAdjust="spacingAndGlyphs">INA6</text>
<text transform="translate(436.50,363.80) rotate(-45)" font-size="8.5" text-anchor="start" font-weight="normal" fill="#1a1718" stroke="#1a1718" stroke-width="0.25" textLength="40" lengthAdjust="spacingAndGlyphs">Scrambled</text>
<text transform="translate(464.00,363.60) rotate(-45)" font-size="8.5" text-anchor="start" font-weight="normal" fill="#1a1718" stroke="#1a1718" stroke-width="0.25" textLength="35.5" lengthAdjust="spacingAndGlyphs">PAK4 KD</text>
<text transform="translate(390.40,382.90)" font-size="8.3" text-anchor="start" font-weight="normal" fill="#1a1718" stroke="#1a1718" stroke-width="0.25">PAK4</text>
<text transform="translate(390.40,401.40)" font-size="8.3" text-anchor="start" font-weight="normal" fill="#1a1718" stroke="#1a1718" stroke-width="0.25">p-bRAF</text>
<text transform="translate(390.40,418.90)" font-size="8.3" text-anchor="start" font-weight="normal" fill="#1a1718" stroke="#1a1718" stroke-width="0.25">p-MEK</text>
<text transform="translate(390.40,436.90)" font-size="8.3" text-anchor="start" font-weight="normal" fill="#1a1718" stroke="#1a1718" stroke-width="0.25">MEK</text>
<text transform="translate(390.40,455.40)" font-size="8.3" text-anchor="start" font-weight="normal" fill="#1a1718" stroke="#1a1718" stroke-width="0.25">p-ERK</text>
<text transform="translate(390.40,477.30)" font-size="8.3" text-anchor="start" font-weight="normal" fill="#1a1718" stroke="#1a1718" stroke-width="0.25">ERK</text>
<text transform="translate(390.40,497.40)" font-size="8.3" text-anchor="start" font-weight="normal" fill="#1a1718" stroke="#1a1718" stroke-width="0.25">GAPDH</text>
<text transform="translate(390.40,523.50)" font-size="8.3" text-anchor="start" font-weight="normal" fill="#1a1718" stroke="#1a1718" stroke-width="0.25">p-CREB</text>
<text transform="translate(390.40,551.90)" font-size="8.3" text-anchor="start" font-weight="normal" fill="#1a1718" stroke="#1a1718" stroke-width="0.25">CREB</text>
<text transform="translate(390.40,578.90)" font-size="8.3" text-anchor="start" font-weight="normal" fill="#1a1718" stroke="#1a1718" stroke-width="0.25">GAPDH</text>
<clipPath id="c27"><rect x="425.00" y="369.50" width="50.90" height="16.70"/></clipPath>
<rect x="425.00" y="369.50" width="50.90" height="16.70" fill="#c0c0c0"/>
<g clip-path="url(#c27)"><g filter="url(#b15)">
<ellipse cx="435.50" cy="379.00" rx="14.38" ry="4.30" fill="#000" opacity="0.16"/>
<ellipse cx="461.20" cy="379.90" rx="10.75" ry="3.50" fill="#000" opacity="0.16"/>
</g><g filter="url(#b7)">
<ellipse cx="435.50" cy="379.00" rx="12.65" ry="1.89" fill="#080808" opacity="1"/>
<rect x="424.81" y="377.00" width="21.39" height="3.99" rx="1.61" fill="#080808" opacity="1"/>
<ellipse cx="461.20" cy="379.90" rx="9.46" ry="1.40" fill="#2a2a2a" opacity="0.9"/>
<rect x="453.20" y="378.43" width="16.00" height="2.94" rx="1.19" fill="#2a2a2a" opacity="0.9"/>
</g></g>
<clipPath id="c28"><rect x="425.00" y="388.50" width="50.90" height="18.00"/></clipPath>
<rect x="425.00" y="388.50" width="50.90" height="18.00" fill="#b0b0b0"/>
<g clip-path="url(#c28)"><g filter="url(#b15)">
<ellipse cx="437.50" cy="398.70" rx="15.62" ry="5.40" fill="#000" opacity="0.16"/>
<ellipse cx="464.70" cy="398.50" rx="12.25" ry="4.70" fill="#000" opacity="0.16"/>
</g><g filter="url(#b7)">
<ellipse cx="437.50" cy="398.70" rx="13.75" ry="2.88" fill="#080808" opacity="1"/>
<rect x="425.88" y="395.66" width="23.25" height="6.08" rx="2.45" fill="#080808" opacity="1"/>
<ellipse cx="464.70" cy="398.50" rx="10.78" ry="2.25" fill="#0c0c0c" opacity="1"/>
<rect x="455.59" y="396.12" width="18.23" height="4.75" rx="1.91" fill="#0c0c0c" opacity="1"/>
</g></g>
<clipPath id="c29"><rect x="425.00" y="408.80" width="50.90" height="14.70"/></clipPath>
<rect x="425.00" y="408.80" width="50.90" height="14.70" fill="#b9b9b9"/>
<g clip-path="url(#c29)"><g filter="url(#b15)">
<ellipse cx="436.50" cy="414.80" rx="8.75" ry="3.40" fill="#000" opacity="0.16"/>
</g><g filter="url(#b7)">
<ellipse cx="436.50" cy="414.80" rx="7.70" ry="1.30" fill="#8a8a8a" opacity="0.8"/>
<rect x="429.99" y="413.42" width="13.02" height="2.75" rx="1.11" fill="#8a8a8a" opacity="0.8"/>
</g></g>
<clipPath id="c30"><rect x="425.00" y="427.70" width="50.90" height="12.00"/></clipPath>
<rect x="425.00" y="427.70" width="50.90" height="12.00" fill="#b0b0b0"/>
<g clip-path="url(#c30)"><g filter="url(#b15)">
<ellipse cx="438.20" cy="433.50" rx="13.12" ry="3.60" fill="#000" opacity="0.16"/>
<ellipse cx="464.70" cy="433.00" rx="13.75" ry="4.50" fill="#000" opacity="0.16"/>
</g><g filter="url(#b7)">
<ellipse cx="438.20" cy="433.50" rx="11.55" ry="1.48" fill="#222" opacity="0.92"/>
<rect x="428.44" y="431.93" width="19.53" height="3.13" rx="1.26" fill="#222" opacity="0.92"/>
<ellipse cx="464.70" cy="433.00" rx="12.10" ry="2.07" fill="#080808" opacity="1"/>
<rect x="454.47" y="430.81" width="20.46" height="4.37" rx="1.76" fill="#080808" opacity="1"/>
</g></g>
<clipPath id="c31"><rect x="425.00" y="445.50" width="50.90" height="14.00"/></clipPath>
<rect x="425.00" y="445.50" width="50.90" height="14.00" fill="#b5b5b5"/>
<g clip-path="url(#c31)"><g filter="url(#b15)">
<ellipse cx="436.50" cy="450.60" rx="11.25" ry="4.00" fill="#000" opacity="0.16"/>
<ellipse cx="438.20" cy="455.40" rx="10.62" ry="4.00" fill="#000" opacity="0.16"/>
<ellipse cx="464.30" cy="450.30" rx="12.50" ry="3.40" fill="#000" opacity="0.16"/>
<ellipse cx="464.30" cy="455.40" rx="12.50" ry="3.50" fill="#000" opacity="0.16"/>
</g><g filter="url(#b7)">
<ellipse cx="436.50" cy="450.60" rx="9.90" ry="1.62" fill="#2a2a2a" opacity="0.9"/>
<rect x="428.13" y="448.89" width="16.74" height="3.42" rx="1.38" fill="#2a2a2a" opacity="0.9"/>
<ellipse cx="438.20" cy="455.40" rx="9.35" ry="1.62" fill="#1a1a1a" opacity="0.95"/>
<rect x="430.30" y="453.69" width="15.81" height="3.42" rx="1.38" fill="#1a1a1a" opacity="0.95"/>
<ellipse cx="464.30" cy="450.30" rx="11.00" ry="1.30" fill="#3a3a3a" opacity="0.85"/>
<rect x="455.00" y="448.92" width="18.60" height="2.75" rx="1.11" fill="#3a3a3a" opacity="0.85"/>
<ellipse cx="464.30" cy="455.40" rx="11.00" ry="1.40" fill="#333" opacity="0.9"/>
<rect x="455.00" y="453.93" width="18.60" height="2.94" rx="1.19" fill="#333" opacity="0.9"/>
</g></g>
<clipPath id="c32"><rect x="425.00" y="465.80" width="50.90" height="17.30"/></clipPath>
<rect x="425.00" y="465.80" width="50.90" height="17.30" fill="#9c9c9c"/>
<g clip-path="url(#c32)"><g filter="url(#b15)">
<ellipse cx="437.70" cy="469.50" rx="15.00" ry="4.70" fill="#000" opacity="0.16"/>
<ellipse cx="437.70" cy="476.20" rx="15.00" ry="5.40" fill="#000" opacity="0.16"/>
<ellipse cx="463.80" cy="469.50" rx="15.00" ry="4.70" fill="#000" opacity="0.16"/>
<ellipse cx="463.80" cy="476.20" rx="15.00" ry="5.40" fill="#000" opacity="0.16"/>
</g><g filter="url(#b7)">
<rect x="425.70" y="467.00" width="24.00" height="5.00" rx="2.25" fill="#0a0a0a" opacity="1"/>
<rect x="425.70" y="473.00" width="24.00" height="6.40" rx="2.88" fill="#080808" opacity="1"/>
<rect x="451.80" y="467.00" width="24.00" height="5.00" rx="2.25" fill="#0a0a0a" opacity="1"/>
<rect x="451.80" y="473.00" width="24.00" height="6.40" rx="2.88" fill="#080808" opacity="1"/>
<rect x="425.50" y="471.35" width="50.00" height="2.90" rx="1.30" fill="#555" opacity="0.6"/>
</g></g>
<clipPath id="c33"><rect x="425.00" y="487.20" width="50.90" height="14.30"/></clipPath>
<rect x="425.00" y="487.20" width="50.90" height="14.30" fill="#b3b3b3"/>
<g clip-path="url(#c33)"><g filter="url(#b15)">
<ellipse cx="436.50" cy="494.60" rx="13.00" ry="5.20" fill="#000" opacity="0.16"/>
<ellipse cx="462.90" cy="494.60" rx="14.38" ry="5.40" fill="#000" opacity="0.16"/>
</g><g filter="url(#b7)">
<ellipse cx="436.50" cy="494.60" rx="11.44" ry="2.70" fill="#0a0a0a" opacity="1"/>
<rect x="426.83" y="491.75" width="19.34" height="5.70" rx="2.29" fill="#0a0a0a" opacity="1"/>
<ellipse cx="462.90" cy="494.60" rx="12.65" ry="2.88" fill="#080808" opacity="1"/>
<rect x="452.20" y="491.56" width="21.39" height="6.08" rx="2.45" fill="#080808" opacity="1"/>
</g></g>
<clipPath id="c34"><rect x="425.00" y="509.20" width="50.90" height="25.10"/></clipPath>
<rect x="425.00" y="509.20" width="50.90" height="25.10" fill="#b0b0b0"/>
<g clip-path="url(#c34)"><g filter="url(#b15)">
<ellipse cx="440.60" cy="514.00" rx="5.00" ry="3.40" fill="#000" opacity="0.16"/>
<ellipse cx="439.30" cy="520.70" rx="12.25" ry="6.20" fill="#000" opacity="0.16"/>
<ellipse cx="463.10" cy="520.50" rx="11.25" ry="3.50" fill="#000" opacity="0.16"/>
</g><g filter="url(#b7)">
<ellipse cx="438.20" cy="528.70" rx="6.05" ry="2.88" fill="#444" opacity="0.5"/>
<rect x="433.08" y="525.66" width="10.23" height="6.08" rx="2.45" fill="#444" opacity="0.5"/>
<ellipse cx="440.60" cy="514.00" rx="4.40" ry="1.30" fill="#555" opacity="0.8"/>
<rect x="436.88" y="512.62" width="7.44" height="2.75" rx="1.11" fill="#555" opacity="0.8"/>
<ellipse cx="439.30" cy="520.70" rx="10.78" ry="3.60" fill="#050505" opacity="1"/>
<rect x="430.19" y="516.90" width="18.23" height="7.60" rx="3.06" fill="#050505" opacity="1"/>
<ellipse cx="463.10" cy="520.50" rx="9.90" ry="1.40" fill="#4a4a4a" opacity="0.85"/>
<rect x="454.73" y="519.03" width="16.74" height="2.94" rx="1.19" fill="#4a4a4a" opacity="0.85"/>
</g></g>
<clipPath id="c35"><rect x="425.00" y="540.40" width="50.90" height="20.30"/></clipPath>
<rect x="425.00" y="540.40" width="50.90" height="20.30" fill="#b3b3b3"/>
<g clip-path="url(#c35)"><g filter="url(#b15)">
<ellipse cx="437.90" cy="548.50" rx="16.00" ry="6.00" fill="#000" opacity="0.16"/>
<ellipse cx="462.40" cy="548.70" rx="16.88" ry="5.10" fill="#000" opacity="0.16"/>
</g><g filter="url(#b7)">
<ellipse cx="437.90" cy="548.50" rx="14.08" ry="3.42" fill="#080808" opacity="1"/>
<rect x="426.00" y="544.89" width="23.81" height="7.22" rx="2.91" fill="#080808" opacity="1"/>
<ellipse cx="462.40" cy="548.70" rx="14.85" ry="2.61" fill="#0a0a0a" opacity="1"/>
<rect x="449.84" y="545.94" width="25.11" height="5.51" rx="2.22" fill="#0a0a0a" opacity="1"/>
</g></g>
<clipPath id="c36"><rect x="425.00" y="566.90" width="50.90" height="19.60"/></clipPath>
<rect x="425.00" y="566.90" width="50.90" height="19.60" fill="#b3b3b3"/>
<g clip-path="url(#c36)"><g filter="url(#b15)">
<ellipse cx="437.50" cy="575.40" rx="15.38" ry="5.50" fill="#000" opacity="0.16"/>
<ellipse cx="461.30" cy="575.90" rx="16.88" ry="4.70" fill="#000" opacity="0.16"/>
</g><g filter="url(#b7)">
<ellipse cx="437.50" cy="575.40" rx="13.53" ry="2.97" fill="#080808" opacity="1"/>
<rect x="426.06" y="572.26" width="22.88" height="6.27" rx="2.52" fill="#080808" opacity="1"/>
<ellipse cx="461.30" cy="575.90" rx="14.85" ry="2.25" fill="#0a0a0a" opacity="1"/>
<rect x="448.75" y="573.52" width="25.11" height="4.75" rx="1.91" fill="#0a0a0a" opacity="1"/>
<ellipse cx="438.00" cy="582.40" rx="5.50" ry="1.57" fill="#999" opacity="0.5"/>
<rect x="433.35" y="580.74" width="9.30" height="3.32" rx="1.34" fill="#999" opacity="0.5"/>
</g></g>
<rect x="0.5" y="0.5" width="519" height="661" fill="none" stroke="#000" stroke-width="1"/>
</svg>
</body></html>
